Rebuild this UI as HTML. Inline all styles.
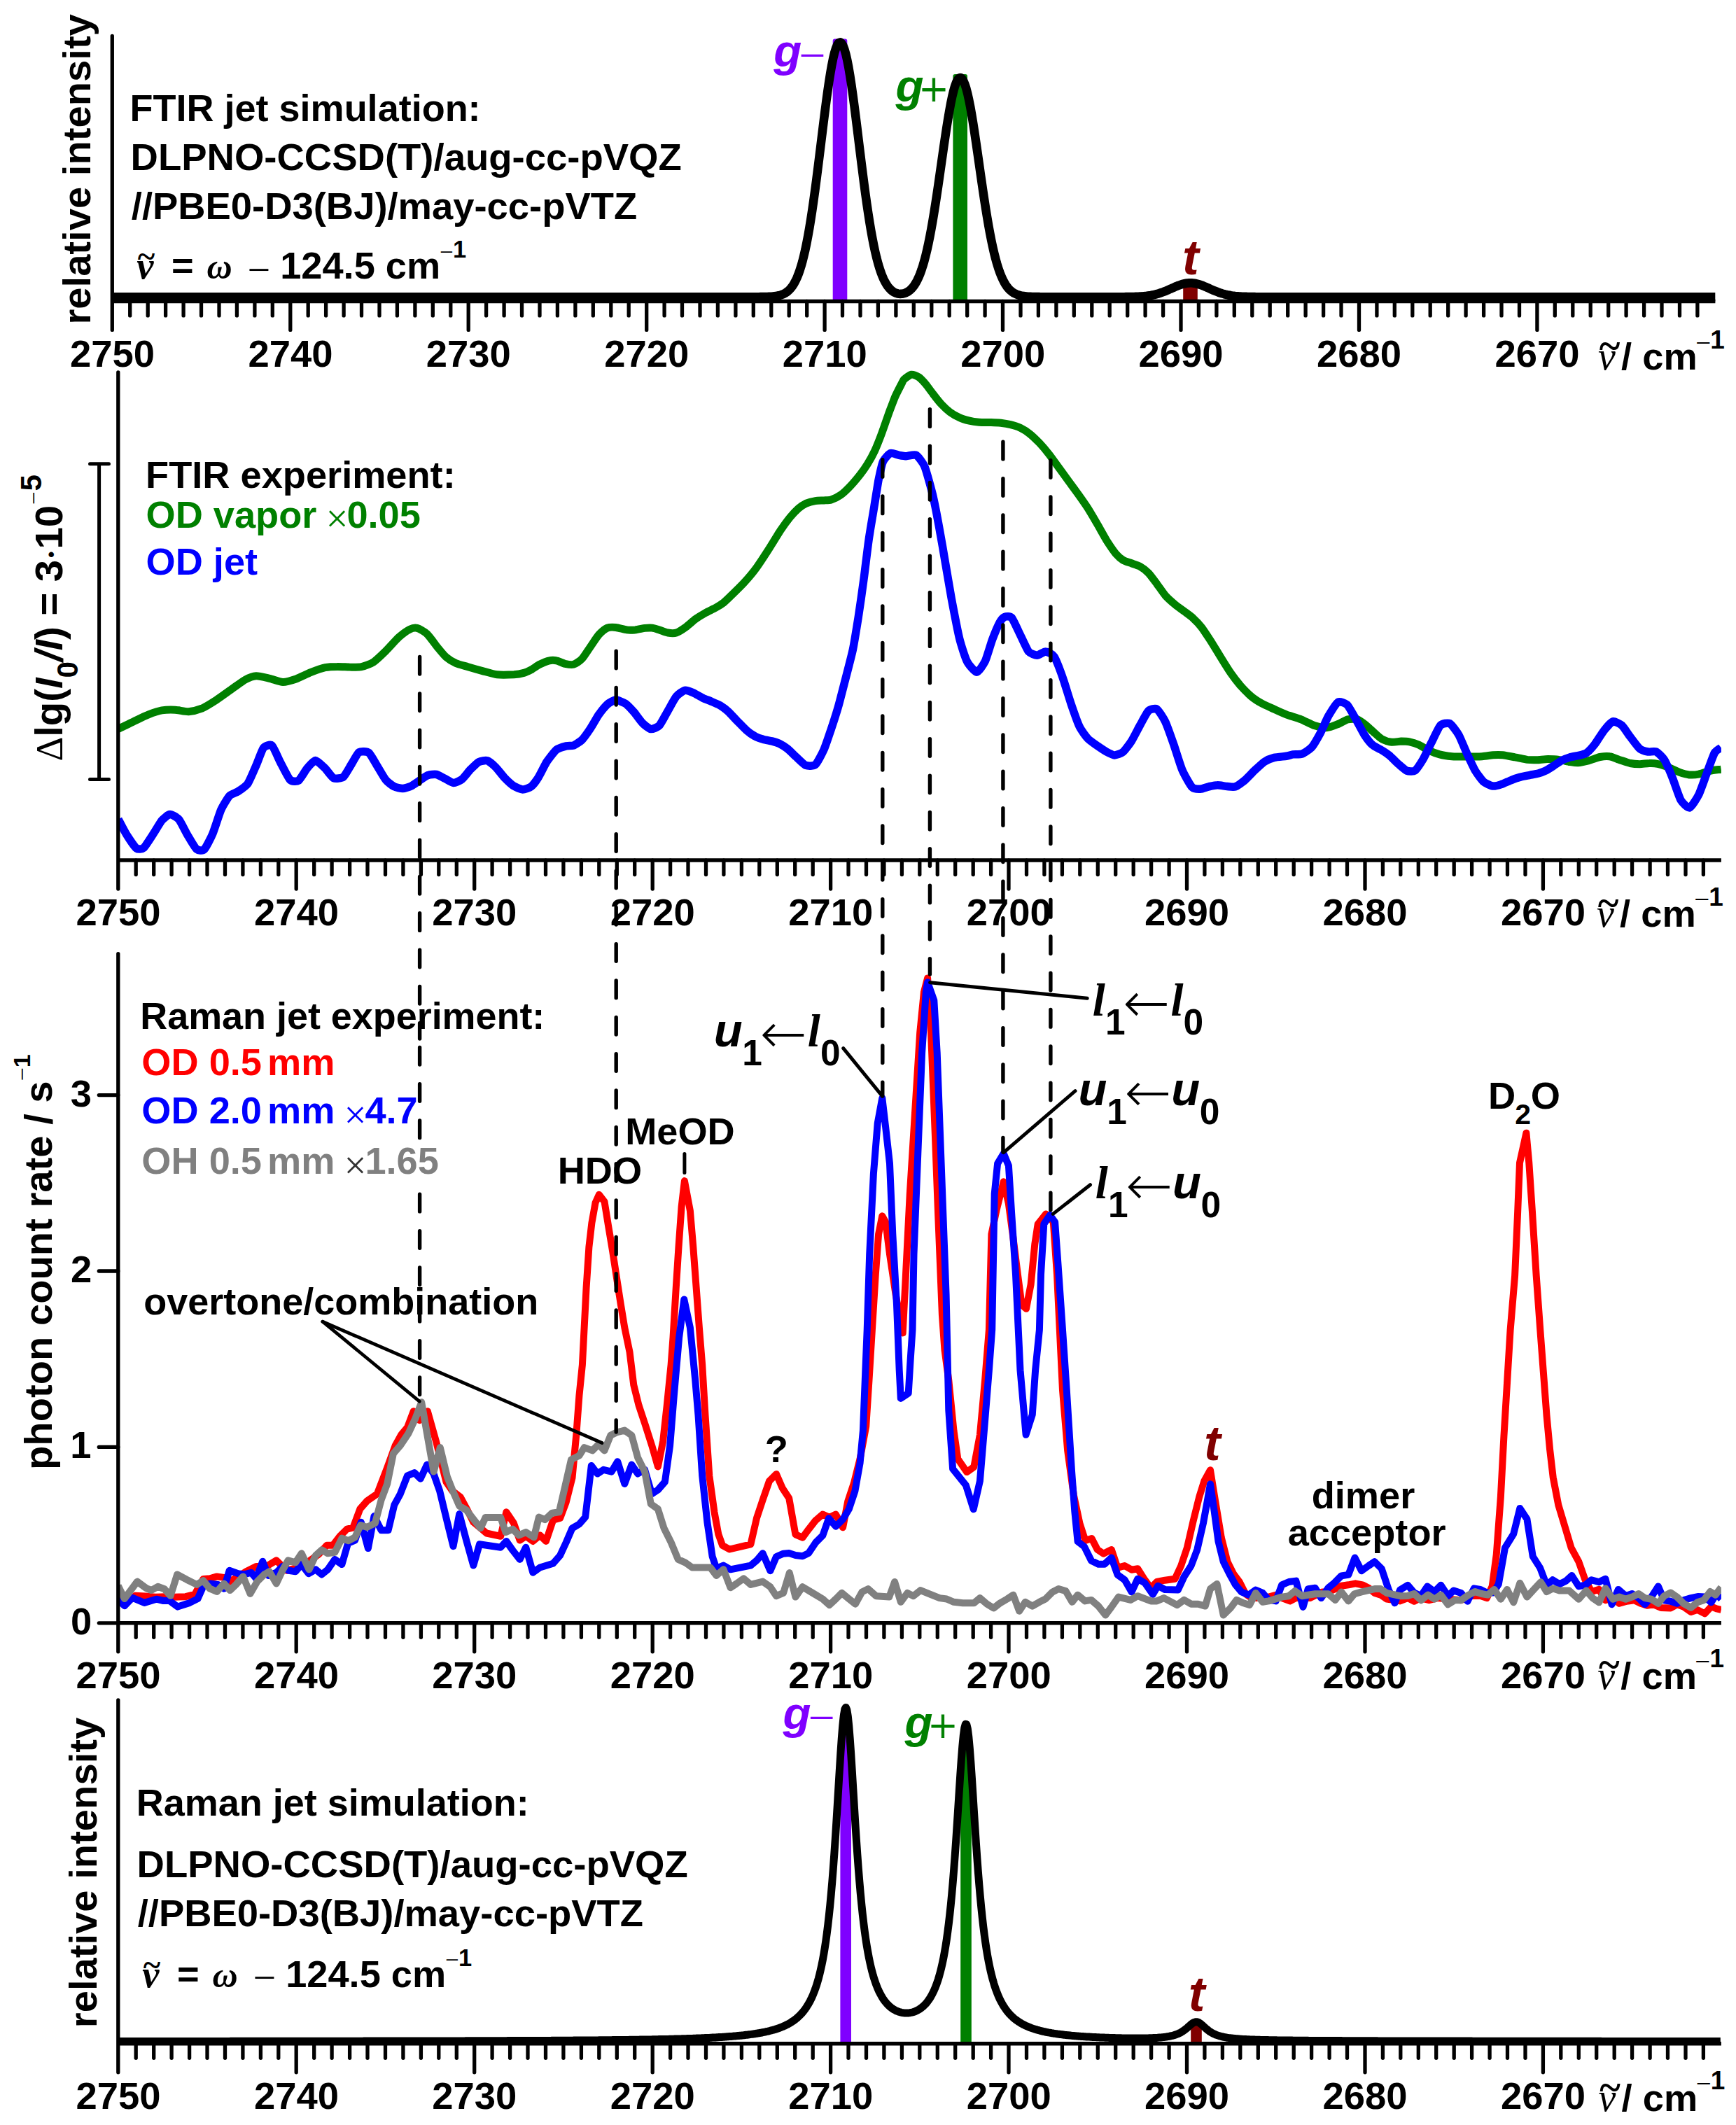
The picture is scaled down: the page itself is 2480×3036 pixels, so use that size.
<!DOCTYPE html>
<html><head><meta charset="utf-8"><title>Spectra</title><style>html,body{margin:0;padding:0;background:#fff}svg{display:block}</style></head><body>
<svg width="2480" height="3036" viewBox="0 0 2480 3036">
<rect width="2480" height="3036" fill="#fff"/>
<rect x="1189.7" y="55.4" width="20.6" height="375" rx="3" fill="#7f00ff"/>
<rect x="1361.4" y="106" width="20.6" height="324.4" rx="3" fill="#008000"/>
<rect x="1690.2" y="399.3" width="20.6" height="31.1" rx="3" fill="#800000"/>
<line x1="160.3" y1="51.5" x2="160.3" y2="471.4" stroke="#000" stroke-width="5.3" stroke-linecap="round" />
<line x1="160.3" y1="430.4" x2="2450.4" y2="430.4" stroke="#000" stroke-width="5.5" stroke-linecap="butt" />
<line x1="185.7" y1="430.4" x2="185.7" y2="450.9" stroke="#000" stroke-width="5.3" stroke-linecap="round" />
<line x1="211.2" y1="430.4" x2="211.2" y2="450.9" stroke="#000" stroke-width="5.3" stroke-linecap="round" />
<line x1="236.6" y1="430.4" x2="236.6" y2="450.9" stroke="#000" stroke-width="5.3" stroke-linecap="round" />
<line x1="262.1" y1="430.4" x2="262.1" y2="450.9" stroke="#000" stroke-width="5.3" stroke-linecap="round" />
<line x1="287.5" y1="430.4" x2="287.5" y2="450.9" stroke="#000" stroke-width="5.3" stroke-linecap="round" />
<line x1="313" y1="430.4" x2="313" y2="450.9" stroke="#000" stroke-width="5.3" stroke-linecap="round" />
<line x1="338.4" y1="430.4" x2="338.4" y2="450.9" stroke="#000" stroke-width="5.3" stroke-linecap="round" />
<line x1="363.9" y1="430.4" x2="363.9" y2="450.9" stroke="#000" stroke-width="5.3" stroke-linecap="round" />
<line x1="389.3" y1="430.4" x2="389.3" y2="450.9" stroke="#000" stroke-width="5.3" stroke-linecap="round" />
<line x1="414.8" y1="430.4" x2="414.8" y2="471.4" stroke="#000" stroke-width="5.3" stroke-linecap="round" />
<line x1="440.2" y1="430.4" x2="440.2" y2="450.9" stroke="#000" stroke-width="5.3" stroke-linecap="round" />
<line x1="465.6" y1="430.4" x2="465.6" y2="450.9" stroke="#000" stroke-width="5.3" stroke-linecap="round" />
<line x1="491.1" y1="430.4" x2="491.1" y2="450.9" stroke="#000" stroke-width="5.3" stroke-linecap="round" />
<line x1="516.5" y1="430.4" x2="516.5" y2="450.9" stroke="#000" stroke-width="5.3" stroke-linecap="round" />
<line x1="542" y1="430.4" x2="542" y2="450.9" stroke="#000" stroke-width="5.3" stroke-linecap="round" />
<line x1="567.4" y1="430.4" x2="567.4" y2="450.9" stroke="#000" stroke-width="5.3" stroke-linecap="round" />
<line x1="592.9" y1="430.4" x2="592.9" y2="450.9" stroke="#000" stroke-width="5.3" stroke-linecap="round" />
<line x1="618.3" y1="430.4" x2="618.3" y2="450.9" stroke="#000" stroke-width="5.3" stroke-linecap="round" />
<line x1="643.8" y1="430.4" x2="643.8" y2="450.9" stroke="#000" stroke-width="5.3" stroke-linecap="round" />
<line x1="669.2" y1="430.4" x2="669.2" y2="471.4" stroke="#000" stroke-width="5.3" stroke-linecap="round" />
<line x1="694.6" y1="430.4" x2="694.6" y2="450.9" stroke="#000" stroke-width="5.3" stroke-linecap="round" />
<line x1="720.1" y1="430.4" x2="720.1" y2="450.9" stroke="#000" stroke-width="5.3" stroke-linecap="round" />
<line x1="745.5" y1="430.4" x2="745.5" y2="450.9" stroke="#000" stroke-width="5.3" stroke-linecap="round" />
<line x1="771" y1="430.4" x2="771" y2="450.9" stroke="#000" stroke-width="5.3" stroke-linecap="round" />
<line x1="796.4" y1="430.4" x2="796.4" y2="450.9" stroke="#000" stroke-width="5.3" stroke-linecap="round" />
<line x1="821.9" y1="430.4" x2="821.9" y2="450.9" stroke="#000" stroke-width="5.3" stroke-linecap="round" />
<line x1="847.3" y1="430.4" x2="847.3" y2="450.9" stroke="#000" stroke-width="5.3" stroke-linecap="round" />
<line x1="872.8" y1="430.4" x2="872.8" y2="450.9" stroke="#000" stroke-width="5.3" stroke-linecap="round" />
<line x1="898.2" y1="430.4" x2="898.2" y2="450.9" stroke="#000" stroke-width="5.3" stroke-linecap="round" />
<line x1="923.7" y1="430.4" x2="923.7" y2="471.4" stroke="#000" stroke-width="5.3" stroke-linecap="round" />
<line x1="949.1" y1="430.4" x2="949.1" y2="450.9" stroke="#000" stroke-width="5.3" stroke-linecap="round" />
<line x1="974.5" y1="430.4" x2="974.5" y2="450.9" stroke="#000" stroke-width="5.3" stroke-linecap="round" />
<line x1="1000" y1="430.4" x2="1000" y2="450.9" stroke="#000" stroke-width="5.3" stroke-linecap="round" />
<line x1="1025.4" y1="430.4" x2="1025.4" y2="450.9" stroke="#000" stroke-width="5.3" stroke-linecap="round" />
<line x1="1050.9" y1="430.4" x2="1050.9" y2="450.9" stroke="#000" stroke-width="5.3" stroke-linecap="round" />
<line x1="1076.3" y1="430.4" x2="1076.3" y2="450.9" stroke="#000" stroke-width="5.3" stroke-linecap="round" />
<line x1="1101.8" y1="430.4" x2="1101.8" y2="450.9" stroke="#000" stroke-width="5.3" stroke-linecap="round" />
<line x1="1127.2" y1="430.4" x2="1127.2" y2="450.9" stroke="#000" stroke-width="5.3" stroke-linecap="round" />
<line x1="1152.7" y1="430.4" x2="1152.7" y2="450.9" stroke="#000" stroke-width="5.3" stroke-linecap="round" />
<line x1="1178.1" y1="430.4" x2="1178.1" y2="471.4" stroke="#000" stroke-width="5.3" stroke-linecap="round" />
<line x1="1203.5" y1="430.4" x2="1203.5" y2="450.9" stroke="#000" stroke-width="5.3" stroke-linecap="round" />
<line x1="1229" y1="430.4" x2="1229" y2="450.9" stroke="#000" stroke-width="5.3" stroke-linecap="round" />
<line x1="1254.4" y1="430.4" x2="1254.4" y2="450.9" stroke="#000" stroke-width="5.3" stroke-linecap="round" />
<line x1="1279.9" y1="430.4" x2="1279.9" y2="450.9" stroke="#000" stroke-width="5.3" stroke-linecap="round" />
<line x1="1305.3" y1="430.4" x2="1305.3" y2="450.9" stroke="#000" stroke-width="5.3" stroke-linecap="round" />
<line x1="1330.8" y1="430.4" x2="1330.8" y2="450.9" stroke="#000" stroke-width="5.3" stroke-linecap="round" />
<line x1="1356.2" y1="430.4" x2="1356.2" y2="450.9" stroke="#000" stroke-width="5.3" stroke-linecap="round" />
<line x1="1381.7" y1="430.4" x2="1381.7" y2="450.9" stroke="#000" stroke-width="5.3" stroke-linecap="round" />
<line x1="1407.1" y1="430.4" x2="1407.1" y2="450.9" stroke="#000" stroke-width="5.3" stroke-linecap="round" />
<line x1="1432.5" y1="430.4" x2="1432.5" y2="471.4" stroke="#000" stroke-width="5.3" stroke-linecap="round" />
<line x1="1458" y1="430.4" x2="1458" y2="450.9" stroke="#000" stroke-width="5.3" stroke-linecap="round" />
<line x1="1483.4" y1="430.4" x2="1483.4" y2="450.9" stroke="#000" stroke-width="5.3" stroke-linecap="round" />
<line x1="1508.9" y1="430.4" x2="1508.9" y2="450.9" stroke="#000" stroke-width="5.3" stroke-linecap="round" />
<line x1="1534.3" y1="430.4" x2="1534.3" y2="450.9" stroke="#000" stroke-width="5.3" stroke-linecap="round" />
<line x1="1559.8" y1="430.4" x2="1559.8" y2="450.9" stroke="#000" stroke-width="5.3" stroke-linecap="round" />
<line x1="1585.2" y1="430.4" x2="1585.2" y2="450.9" stroke="#000" stroke-width="5.3" stroke-linecap="round" />
<line x1="1610.7" y1="430.4" x2="1610.7" y2="450.9" stroke="#000" stroke-width="5.3" stroke-linecap="round" />
<line x1="1636.1" y1="430.4" x2="1636.1" y2="450.9" stroke="#000" stroke-width="5.3" stroke-linecap="round" />
<line x1="1661.6" y1="430.4" x2="1661.6" y2="450.9" stroke="#000" stroke-width="5.3" stroke-linecap="round" />
<line x1="1687" y1="430.4" x2="1687" y2="471.4" stroke="#000" stroke-width="5.3" stroke-linecap="round" />
<line x1="1712.4" y1="430.4" x2="1712.4" y2="450.9" stroke="#000" stroke-width="5.3" stroke-linecap="round" />
<line x1="1737.9" y1="430.4" x2="1737.9" y2="450.9" stroke="#000" stroke-width="5.3" stroke-linecap="round" />
<line x1="1763.3" y1="430.4" x2="1763.3" y2="450.9" stroke="#000" stroke-width="5.3" stroke-linecap="round" />
<line x1="1788.8" y1="430.4" x2="1788.8" y2="450.9" stroke="#000" stroke-width="5.3" stroke-linecap="round" />
<line x1="1814.2" y1="430.4" x2="1814.2" y2="450.9" stroke="#000" stroke-width="5.3" stroke-linecap="round" />
<line x1="1839.7" y1="430.4" x2="1839.7" y2="450.9" stroke="#000" stroke-width="5.3" stroke-linecap="round" />
<line x1="1865.1" y1="430.4" x2="1865.1" y2="450.9" stroke="#000" stroke-width="5.3" stroke-linecap="round" />
<line x1="1890.6" y1="430.4" x2="1890.6" y2="450.9" stroke="#000" stroke-width="5.3" stroke-linecap="round" />
<line x1="1916" y1="430.4" x2="1916" y2="450.9" stroke="#000" stroke-width="5.3" stroke-linecap="round" />
<line x1="1941.5" y1="430.4" x2="1941.5" y2="471.4" stroke="#000" stroke-width="5.3" stroke-linecap="round" />
<line x1="1966.9" y1="430.4" x2="1966.9" y2="450.9" stroke="#000" stroke-width="5.3" stroke-linecap="round" />
<line x1="1992.3" y1="430.4" x2="1992.3" y2="450.9" stroke="#000" stroke-width="5.3" stroke-linecap="round" />
<line x1="2017.8" y1="430.4" x2="2017.8" y2="450.9" stroke="#000" stroke-width="5.3" stroke-linecap="round" />
<line x1="2043.2" y1="430.4" x2="2043.2" y2="450.9" stroke="#000" stroke-width="5.3" stroke-linecap="round" />
<line x1="2068.7" y1="430.4" x2="2068.7" y2="450.9" stroke="#000" stroke-width="5.3" stroke-linecap="round" />
<line x1="2094.1" y1="430.4" x2="2094.1" y2="450.9" stroke="#000" stroke-width="5.3" stroke-linecap="round" />
<line x1="2119.6" y1="430.4" x2="2119.6" y2="450.9" stroke="#000" stroke-width="5.3" stroke-linecap="round" />
<line x1="2145" y1="430.4" x2="2145" y2="450.9" stroke="#000" stroke-width="5.3" stroke-linecap="round" />
<line x1="2170.5" y1="430.4" x2="2170.5" y2="450.9" stroke="#000" stroke-width="5.3" stroke-linecap="round" />
<line x1="2195.9" y1="430.4" x2="2195.9" y2="471.4" stroke="#000" stroke-width="5.3" stroke-linecap="round" />
<line x1="2221.3" y1="430.4" x2="2221.3" y2="450.9" stroke="#000" stroke-width="5.3" stroke-linecap="round" />
<line x1="2246.8" y1="430.4" x2="2246.8" y2="450.9" stroke="#000" stroke-width="5.3" stroke-linecap="round" />
<line x1="2272.2" y1="430.4" x2="2272.2" y2="450.9" stroke="#000" stroke-width="5.3" stroke-linecap="round" />
<line x1="2297.7" y1="430.4" x2="2297.7" y2="450.9" stroke="#000" stroke-width="5.3" stroke-linecap="round" />
<line x1="2323.1" y1="430.4" x2="2323.1" y2="450.9" stroke="#000" stroke-width="5.3" stroke-linecap="round" />
<line x1="2348.6" y1="430.4" x2="2348.6" y2="450.9" stroke="#000" stroke-width="5.3" stroke-linecap="round" />
<line x1="2374" y1="430.4" x2="2374" y2="450.9" stroke="#000" stroke-width="5.3" stroke-linecap="round" />
<line x1="2399.5" y1="430.4" x2="2399.5" y2="450.9" stroke="#000" stroke-width="5.3" stroke-linecap="round" />
<line x1="2424.9" y1="430.4" x2="2424.9" y2="450.9" stroke="#000" stroke-width="5.3" stroke-linecap="round" />
<text x="99.9" y="523.5" font-family='"Liberation Sans", Arial, sans-serif' font-size="54.4" font-weight="bold" font-style="normal" fill="#000" >2750</text>
<text x="354.4" y="523.5" font-family='"Liberation Sans", Arial, sans-serif' font-size="54.4" font-weight="bold" font-style="normal" fill="#000" >2740</text>
<text x="608.8" y="523.5" font-family='"Liberation Sans", Arial, sans-serif' font-size="54.4" font-weight="bold" font-style="normal" fill="#000" >2730</text>
<text x="863.3" y="523.5" font-family='"Liberation Sans", Arial, sans-serif' font-size="54.4" font-weight="bold" font-style="normal" fill="#000" >2720</text>
<text x="1117.7" y="523.5" font-family='"Liberation Sans", Arial, sans-serif' font-size="54.4" font-weight="bold" font-style="normal" fill="#000" >2710</text>
<text x="1372.2" y="523.5" font-family='"Liberation Sans", Arial, sans-serif' font-size="54.4" font-weight="bold" font-style="normal" fill="#000" >2700</text>
<text x="1626.6" y="523.5" font-family='"Liberation Sans", Arial, sans-serif' font-size="54.4" font-weight="bold" font-style="normal" fill="#000" >2690</text>
<text x="1881.1" y="523.5" font-family='"Liberation Sans", Arial, sans-serif' font-size="54.4" font-weight="bold" font-style="normal" fill="#000" >2680</text>
<text x="2135.5" y="523.5" font-family='"Liberation Sans", Arial, sans-serif' font-size="54.4" font-weight="bold" font-style="normal" fill="#000" >2670</text>
<text x="2283" y="528.4" font-family='"Liberation Serif", "Times New Roman", serif' font-size="56" font-weight="normal" font-style="italic" fill="#000" >ν</text>
<text x="2284.8" y="513.2" font-family='"Liberation Serif", "Times New Roman", serif' font-size="57" font-weight="bold" font-style="normal" fill="#000" >~</text>
<text x="2316.1" y="528.4" font-family='"Liberation Sans", Arial, sans-serif' font-size="54.3" font-weight="bold" font-style="normal" fill="#000" >/ cm</text>
<text x="2422.2" y="502.7" font-family='"Liberation Serif", "Times New Roman", serif' font-size="39" font-weight="normal" font-style="normal" fill="#000" >−</text>
<text x="2443.3" y="498" font-family='"Liberation Sans", Arial, sans-serif' font-size="37" font-weight="bold" font-style="normal" fill="#000" >1</text>
<polyline points="160.3,424.2 162.3,424.2 164.3,424.2 166.3,424.2 168.3,424.2 170.3,424.2 172.3,424.2 174.3,424.2 176.3,424.2 178.3,424.2 180.3,424.2 182.3,424.2 184.3,424.2 186.3,424.2 188.3,424.2 190.3,424.2 192.3,424.2 194.3,424.2 196.3,424.2 198.3,424.2 200.3,424.2 202.3,424.2 204.3,424.2 206.3,424.2 208.3,424.2 210.3,424.2 212.3,424.2 214.3,424.2 216.3,424.2 218.3,424.2 220.3,424.2 222.3,424.2 224.3,424.2 226.3,424.2 228.3,424.2 230.3,424.2 232.3,424.2 234.3,424.2 236.3,424.2 238.3,424.2 240.3,424.2 242.3,424.2 244.3,424.2 246.3,424.2 248.3,424.2 250.3,424.2 252.3,424.2 254.3,424.2 256.3,424.2 258.3,424.2 260.3,424.2 262.3,424.2 264.3,424.2 266.3,424.2 268.3,424.2 270.3,424.2 272.3,424.2 274.3,424.2 276.3,424.2 278.3,424.2 280.3,424.2 282.3,424.2 284.3,424.2 286.3,424.2 288.3,424.2 290.3,424.2 292.3,424.2 294.3,424.2 296.3,424.2 298.3,424.2 300.3,424.2 302.3,424.2 304.3,424.2 306.3,424.2 308.3,424.2 310.3,424.2 312.3,424.2 314.3,424.2 316.3,424.2 318.3,424.2 320.3,424.2 322.3,424.2 324.3,424.2 326.3,424.2 328.3,424.2 330.3,424.2 332.3,424.2 334.3,424.2 336.3,424.2 338.3,424.2 340.3,424.2 342.3,424.2 344.3,424.2 346.3,424.2 348.3,424.2 350.3,424.2 352.3,424.2 354.3,424.2 356.3,424.2 358.3,424.2 360.3,424.2 362.3,424.2 364.3,424.2 366.3,424.2 368.3,424.2 370.3,424.2 372.3,424.2 374.3,424.2 376.3,424.2 378.3,424.2 380.3,424.2 382.3,424.2 384.3,424.2 386.3,424.2 388.3,424.2 390.3,424.2 392.3,424.2 394.3,424.2 396.3,424.2 398.3,424.2 400.3,424.2 402.3,424.2 404.3,424.2 406.3,424.2 408.3,424.2 410.3,424.2 412.3,424.2 414.3,424.2 416.3,424.2 418.3,424.2 420.3,424.2 422.3,424.2 424.3,424.2 426.3,424.2 428.3,424.2 430.3,424.2 432.3,424.2 434.3,424.2 436.3,424.2 438.3,424.2 440.3,424.2 442.3,424.2 444.3,424.2 446.3,424.2 448.3,424.2 450.3,424.2 452.3,424.2 454.3,424.2 456.3,424.2 458.3,424.2 460.3,424.2 462.3,424.2 464.3,424.2 466.3,424.2 468.3,424.2 470.3,424.2 472.3,424.2 474.3,424.2 476.3,424.2 478.3,424.2 480.3,424.2 482.3,424.2 484.3,424.2 486.3,424.2 488.3,424.2 490.3,424.2 492.3,424.2 494.3,424.2 496.3,424.2 498.3,424.2 500.3,424.2 502.3,424.2 504.3,424.2 506.3,424.2 508.3,424.2 510.3,424.2 512.3,424.2 514.3,424.2 516.3,424.2 518.3,424.2 520.3,424.2 522.3,424.2 524.3,424.2 526.3,424.2 528.3,424.2 530.3,424.2 532.3,424.2 534.3,424.2 536.3,424.2 538.3,424.2 540.3,424.2 542.3,424.2 544.3,424.2 546.3,424.2 548.3,424.2 550.3,424.2 552.3,424.2 554.3,424.2 556.3,424.2 558.3,424.2 560.3,424.2 562.3,424.2 564.3,424.2 566.3,424.2 568.3,424.2 570.3,424.2 572.3,424.2 574.3,424.2 576.3,424.2 578.3,424.2 580.3,424.2 582.3,424.2 584.3,424.2 586.3,424.2 588.3,424.2 590.3,424.2 592.3,424.2 594.3,424.2 596.3,424.2 598.3,424.2 600.3,424.2 602.3,424.2 604.3,424.2 606.3,424.2 608.3,424.2 610.3,424.2 612.3,424.2 614.3,424.2 616.3,424.2 618.3,424.2 620.3,424.2 622.3,424.2 624.3,424.2 626.3,424.2 628.3,424.2 630.3,424.2 632.3,424.2 634.3,424.2 636.3,424.2 638.3,424.2 640.3,424.2 642.3,424.2 644.3,424.2 646.3,424.2 648.3,424.2 650.3,424.2 652.3,424.2 654.3,424.2 656.3,424.2 658.3,424.2 660.3,424.2 662.3,424.2 664.3,424.2 666.3,424.2 668.3,424.2 670.3,424.2 672.3,424.2 674.3,424.2 676.3,424.2 678.3,424.2 680.3,424.2 682.3,424.2 684.3,424.2 686.3,424.2 688.3,424.2 690.3,424.2 692.3,424.2 694.3,424.2 696.3,424.2 698.3,424.2 700.3,424.2 702.3,424.2 704.3,424.2 706.3,424.2 708.3,424.2 710.3,424.2 712.3,424.2 714.3,424.2 716.3,424.2 718.3,424.2 720.3,424.2 722.3,424.2 724.3,424.2 726.3,424.2 728.3,424.2 730.3,424.2 732.3,424.2 734.3,424.2 736.3,424.2 738.3,424.2 740.3,424.2 742.3,424.2 744.3,424.2 746.3,424.2 748.3,424.2 750.3,424.2 752.3,424.2 754.3,424.2 756.3,424.2 758.3,424.2 760.3,424.2 762.3,424.2 764.3,424.2 766.3,424.2 768.3,424.2 770.3,424.2 772.3,424.2 774.3,424.2 776.3,424.2 778.3,424.2 780.3,424.2 782.3,424.2 784.3,424.2 786.3,424.2 788.3,424.2 790.3,424.2 792.3,424.2 794.3,424.2 796.3,424.2 798.3,424.2 800.3,424.2 802.3,424.2 804.3,424.2 806.3,424.2 808.3,424.2 810.3,424.2 812.3,424.2 814.3,424.2 816.3,424.2 818.3,424.2 820.3,424.2 822.3,424.2 824.3,424.2 826.3,424.2 828.3,424.2 830.3,424.2 832.3,424.2 834.3,424.2 836.3,424.2 838.3,424.2 840.3,424.2 842.3,424.2 844.3,424.2 846.3,424.2 848.3,424.2 850.3,424.2 852.3,424.2 854.3,424.2 856.3,424.2 858.3,424.2 860.3,424.2 862.3,424.2 864.3,424.2 866.3,424.2 868.3,424.2 870.3,424.2 872.3,424.2 874.3,424.2 876.3,424.2 878.3,424.2 880.3,424.2 882.3,424.2 884.3,424.2 886.3,424.2 888.3,424.2 890.3,424.2 892.3,424.2 894.3,424.2 896.3,424.2 898.3,424.2 900.3,424.2 902.3,424.2 904.3,424.2 906.3,424.2 908.3,424.2 910.3,424.2 912.3,424.2 914.3,424.2 916.3,424.2 918.3,424.2 920.3,424.2 922.3,424.2 924.3,424.2 926.3,424.2 928.3,424.2 930.3,424.2 932.3,424.2 934.3,424.2 936.3,424.2 938.3,424.2 940.3,424.2 942.3,424.2 944.3,424.2 946.3,424.2 948.3,424.2 950.3,424.2 952.3,424.2 954.3,424.2 956.3,424.2 958.3,424.2 960.3,424.2 962.3,424.2 964.3,424.2 966.3,424.2 968.3,424.2 970.3,424.2 972.3,424.2 974.3,424.2 976.3,424.2 978.3,424.2 980.3,424.2 982.3,424.2 984.3,424.2 986.3,424.2 988.3,424.2 990.3,424.2 992.3,424.2 994.3,424.2 996.3,424.2 998.3,424.2 1000.3,424.2 1002.3,424.2 1004.3,424.2 1006.3,424.2 1008.3,424.2 1010.3,424.2 1012.3,424.2 1014.3,424.2 1016.3,424.2 1018.3,424.2 1020.3,424.2 1022.3,424.2 1024.3,424.2 1026.3,424.2 1028.3,424.2 1030.3,424.2 1032.3,424.2 1034.3,424.2 1036.3,424.2 1038.3,424.2 1040.3,424.2 1042.3,424.2 1044.3,424.2 1046.3,424.2 1048.3,424.2 1050.3,424.2 1052.3,424.2 1054.3,424.2 1056.3,424.2 1058.3,424.2 1060.3,424.2 1062.3,424.2 1064.3,424.2 1066.3,424.2 1068.3,424.2 1070.3,424.2 1072.3,424.2 1074.3,424.2 1076.3,424.2 1078.3,424.2 1080.3,424.2 1082.3,424.2 1084.3,424.2 1086.3,424.1 1088.3,424.1 1090.3,424.1 1092.3,424.1 1094.3,424 1096.3,424 1098.3,423.9 1100.3,423.8 1102.3,423.7 1104.3,423.5 1106.3,423.3 1108.3,423.1 1110.3,422.7 1112.3,422.3 1114.3,421.8 1116.3,421.2 1118.3,420.4 1120.3,419.5 1122.3,418.4 1124.3,417 1126.3,415.4 1128.3,413.4 1130.3,411.1 1132.3,408.4 1134.3,405.3 1136.3,401.6 1138.3,397.4 1140.3,392.5 1142.3,387 1144.3,380.7 1146.3,373.7 1148.3,365.8 1150.3,357.2 1152.3,347.6 1154.3,337.1 1156.3,325.8 1158.3,313.6 1160.3,300.5 1162.3,286.7 1164.3,272.1 1166.3,257 1168.3,241.3 1170.3,225.3 1172.3,209 1174.3,192.7 1176.3,176.5 1178.3,160.6 1180.3,145.2 1182.3,130.6 1184.3,116.8 1186.3,104.2 1188.3,92.9 1190.3,83 1192.3,74.8 1194.3,68.4 1196.3,63.8 1198.3,61.1 1200.3,60.4 1202.3,61.7 1204.3,65 1206.3,70.2 1208.3,77.2 1210.3,86 1212.3,96.3 1214.3,108.1 1216.3,121.1 1218.3,135.1 1220.3,150 1222.3,165.6 1224.3,181.6 1226.3,197.9 1228.3,214.2 1230.3,230.4 1232.3,246.3 1234.3,261.9 1236.3,276.8 1238.3,291.2 1240.3,304.7 1242.3,317.5 1244.3,329.5 1246.3,340.5 1248.3,350.7 1250.3,360 1252.3,368.4 1254.3,376 1256.3,382.8 1258.3,388.8 1260.3,394.1 1262.3,398.7 1264.3,402.7 1266.3,406.2 1268.3,409.1 1270.3,411.6 1272.3,413.7 1274.3,415.5 1276.3,416.9 1278.3,418 1280.3,418.8 1282.3,419.4 1284.3,419.7 1286.3,419.9 1288.3,419.8 1290.3,419.5 1292.3,419 1294.3,418.2 1296.3,417.2 1298.3,415.9 1300.3,414.3 1302.3,412.4 1304.3,410.1 1306.3,407.4 1308.3,404.2 1310.3,400.5 1312.3,396.3 1314.3,391.5 1316.3,386 1318.3,379.9 1320.3,373.1 1322.3,365.5 1324.3,357.2 1326.3,348.1 1328.3,338.2 1330.3,327.6 1332.3,316.3 1334.3,304.3 1336.3,291.7 1338.3,278.6 1340.3,265.1 1342.3,251.2 1344.3,237.2 1346.3,223.1 1348.3,209.2 1350.3,195.6 1352.3,182.4 1354.3,169.9 1356.3,158.2 1358.3,147.4 1360.3,137.8 1362.3,129.5 1364.3,122.6 1366.3,117.2 1368.3,113.5 1370.3,111.4 1372.3,111 1374.3,112.4 1376.3,115.4 1378.3,120.1 1380.3,126.3 1382.3,134 1384.3,143.1 1386.3,153.3 1388.3,164.6 1390.3,176.8 1392.3,189.8 1394.3,203.2 1396.3,217 1398.3,231 1400.3,245.1 1402.3,259 1404.3,272.7 1406.3,286 1408.3,298.9 1410.3,311.1 1412.3,322.7 1414.3,333.7 1416.3,343.9 1418.3,353.3 1420.3,362 1422.3,369.9 1424.3,377 1426.3,383.5 1428.3,389.2 1430.3,394.3 1432.3,398.8 1434.3,402.8 1436.3,406.2 1438.3,409.2 1440.3,411.7 1442.3,413.9 1444.3,415.7 1446.3,417.3 1448.3,418.6 1450.3,419.6 1452.3,420.5 1454.3,421.3 1456.3,421.9 1458.3,422.4 1460.3,422.7 1462.3,423.1 1464.3,423.3 1466.3,423.5 1468.3,423.7 1470.3,423.8 1472.3,423.9 1474.3,424 1476.3,424 1478.3,424.1 1480.3,424.1 1482.3,424.1 1484.3,424.1 1486.3,424.2 1488.3,424.2 1490.3,424.2 1492.3,424.2 1494.3,424.2 1496.3,424.2 1498.3,424.2 1500.3,424.2 1502.3,424.2 1504.3,424.2 1506.3,424.2 1508.3,424.2 1510.3,424.2 1512.3,424.2 1514.3,424.2 1516.3,424.2 1518.3,424.2 1520.3,424.2 1522.3,424.2 1524.3,424.2 1526.3,424.2 1528.3,424.2 1530.3,424.2 1532.3,424.2 1534.3,424.2 1536.3,424.2 1538.3,424.2 1540.3,424.2 1542.3,424.2 1544.3,424.2 1546.3,424.2 1548.3,424.2 1550.3,424.2 1552.3,424.2 1554.3,424.2 1556.3,424.2 1558.3,424.2 1560.3,424.2 1562.3,424.2 1564.3,424.2 1566.3,424.2 1568.3,424.2 1570.3,424.2 1572.3,424.2 1574.3,424.2 1576.3,424.2 1578.3,424.2 1580.3,424.2 1582.3,424.2 1584.3,424.2 1586.3,424.2 1588.3,424.2 1590.3,424.2 1592.3,424.2 1594.3,424.2 1596.3,424.2 1598.3,424.2 1600.3,424.2 1602.3,424.2 1604.3,424.2 1606.3,424.2 1608.3,424.1 1610.3,424.1 1612.3,424.1 1614.3,424.1 1616.3,424 1618.3,424 1620.3,424 1622.3,423.9 1624.3,423.8 1626.3,423.7 1628.3,423.6 1630.3,423.5 1632.3,423.4 1634.3,423.2 1636.3,423 1638.3,422.8 1640.3,422.5 1642.3,422.2 1644.3,421.9 1646.3,421.5 1648.3,421.1 1650.3,420.7 1652.3,420.1 1654.3,419.6 1656.3,419 1658.3,418.3 1660.3,417.6 1662.3,416.9 1664.3,416.1 1666.3,415.3 1668.3,414.4 1670.3,413.5 1672.3,412.7 1674.3,411.8 1676.3,410.9 1678.3,410 1680.3,409.1 1682.3,408.3 1684.3,407.6 1686.3,406.9 1688.3,406.2 1690.3,405.7 1692.3,405.2 1694.3,404.8 1696.3,404.5 1698.3,404.4 1700.3,404.3 1702.3,404.3 1704.3,404.5 1706.3,404.8 1708.3,405.1 1710.3,405.6 1712.3,406.1 1714.3,406.7 1716.3,407.4 1718.3,408.2 1720.3,409 1722.3,409.8 1724.3,410.7 1726.3,411.6 1728.3,412.5 1730.3,413.4 1732.3,414.3 1734.3,415.1 1736.3,415.9 1738.3,416.7 1740.3,417.5 1742.3,418.2 1744.3,418.9 1746.3,419.5 1748.3,420 1750.3,420.6 1752.3,421 1754.3,421.5 1756.3,421.8 1758.3,422.2 1760.3,422.5 1762.3,422.7 1764.3,423 1766.3,423.2 1768.3,423.3 1770.3,423.5 1772.3,423.6 1774.3,423.7 1776.3,423.8 1778.3,423.9 1780.3,423.9 1782.3,424 1784.3,424 1786.3,424.1 1788.3,424.1 1790.3,424.1 1792.3,424.1 1794.3,424.2 1796.3,424.2 1798.3,424.2 1800.3,424.2 1802.3,424.2 1804.3,424.2 1806.3,424.2 1808.3,424.2 1810.3,424.2 1812.3,424.2 1814.3,424.2 1816.3,424.2 1818.3,424.2 1820.3,424.2 1822.3,424.2 1824.3,424.2 1826.3,424.2 1828.3,424.2 1830.3,424.2 1832.3,424.2 1834.3,424.2 1836.3,424.2 1838.3,424.2 1840.3,424.2 1842.3,424.2 1844.3,424.2 1846.3,424.2 1848.3,424.2 1850.3,424.2 1852.3,424.2 1854.3,424.2 1856.3,424.2 1858.3,424.2 1860.3,424.2 1862.3,424.2 1864.3,424.2 1866.3,424.2 1868.3,424.2 1870.3,424.2 1872.3,424.2 1874.3,424.2 1876.3,424.2 1878.3,424.2 1880.3,424.2 1882.3,424.2 1884.3,424.2 1886.3,424.2 1888.3,424.2 1890.3,424.2 1892.3,424.2 1894.3,424.2 1896.3,424.2 1898.3,424.2 1900.3,424.2 1902.3,424.2 1904.3,424.2 1906.3,424.2 1908.3,424.2 1910.3,424.2 1912.3,424.2 1914.3,424.2 1916.3,424.2 1918.3,424.2 1920.3,424.2 1922.3,424.2 1924.3,424.2 1926.3,424.2 1928.3,424.2 1930.3,424.2 1932.3,424.2 1934.3,424.2 1936.3,424.2 1938.3,424.2 1940.3,424.2 1942.3,424.2 1944.3,424.2 1946.3,424.2 1948.3,424.2 1950.3,424.2 1952.3,424.2 1954.3,424.2 1956.3,424.2 1958.3,424.2 1960.3,424.2 1962.3,424.2 1964.3,424.2 1966.3,424.2 1968.3,424.2 1970.3,424.2 1972.3,424.2 1974.3,424.2 1976.3,424.2 1978.3,424.2 1980.3,424.2 1982.3,424.2 1984.3,424.2 1986.3,424.2 1988.3,424.2 1990.3,424.2 1992.3,424.2 1994.3,424.2 1996.3,424.2 1998.3,424.2 2000.3,424.2 2002.3,424.2 2004.3,424.2 2006.3,424.2 2008.3,424.2 2010.3,424.2 2012.3,424.2 2014.3,424.2 2016.3,424.2 2018.3,424.2 2020.3,424.2 2022.3,424.2 2024.3,424.2 2026.3,424.2 2028.3,424.2 2030.3,424.2 2032.3,424.2 2034.3,424.2 2036.3,424.2 2038.3,424.2 2040.3,424.2 2042.3,424.2 2044.3,424.2 2046.3,424.2 2048.3,424.2 2050.3,424.2 2052.3,424.2 2054.3,424.2 2056.3,424.2 2058.3,424.2 2060.3,424.2 2062.3,424.2 2064.3,424.2 2066.3,424.2 2068.3,424.2 2070.3,424.2 2072.3,424.2 2074.3,424.2 2076.3,424.2 2078.3,424.2 2080.3,424.2 2082.3,424.2 2084.3,424.2 2086.3,424.2 2088.3,424.2 2090.3,424.2 2092.3,424.2 2094.3,424.2 2096.3,424.2 2098.3,424.2 2100.3,424.2 2102.3,424.2 2104.3,424.2 2106.3,424.2 2108.3,424.2 2110.3,424.2 2112.3,424.2 2114.3,424.2 2116.3,424.2 2118.3,424.2 2120.3,424.2 2122.3,424.2 2124.3,424.2 2126.3,424.2 2128.3,424.2 2130.3,424.2 2132.3,424.2 2134.3,424.2 2136.3,424.2 2138.3,424.2 2140.3,424.2 2142.3,424.2 2144.3,424.2 2146.3,424.2 2148.3,424.2 2150.3,424.2 2152.3,424.2 2154.3,424.2 2156.3,424.2 2158.3,424.2 2160.3,424.2 2162.3,424.2 2164.3,424.2 2166.3,424.2 2168.3,424.2 2170.3,424.2 2172.3,424.2 2174.3,424.2 2176.3,424.2 2178.3,424.2 2180.3,424.2 2182.3,424.2 2184.3,424.2 2186.3,424.2 2188.3,424.2 2190.3,424.2 2192.3,424.2 2194.3,424.2 2196.3,424.2 2198.3,424.2 2200.3,424.2 2202.3,424.2 2204.3,424.2 2206.3,424.2 2208.3,424.2 2210.3,424.2 2212.3,424.2 2214.3,424.2 2216.3,424.2 2218.3,424.2 2220.3,424.2 2222.3,424.2 2224.3,424.2 2226.3,424.2 2228.3,424.2 2230.3,424.2 2232.3,424.2 2234.3,424.2 2236.3,424.2 2238.3,424.2 2240.3,424.2 2242.3,424.2 2244.3,424.2 2246.3,424.2 2248.3,424.2 2250.3,424.2 2252.3,424.2 2254.3,424.2 2256.3,424.2 2258.3,424.2 2260.3,424.2 2262.3,424.2 2264.3,424.2 2266.3,424.2 2268.3,424.2 2270.3,424.2 2272.3,424.2 2274.3,424.2 2276.3,424.2 2278.3,424.2 2280.3,424.2 2282.3,424.2 2284.3,424.2 2286.3,424.2 2288.3,424.2 2290.3,424.2 2292.3,424.2 2294.3,424.2 2296.3,424.2 2298.3,424.2 2300.3,424.2 2302.3,424.2 2304.3,424.2 2306.3,424.2 2308.3,424.2 2310.3,424.2 2312.3,424.2 2314.3,424.2 2316.3,424.2 2318.3,424.2 2320.3,424.2 2322.3,424.2 2324.3,424.2 2326.3,424.2 2328.3,424.2 2330.3,424.2 2332.3,424.2 2334.3,424.2 2336.3,424.2 2338.3,424.2 2340.3,424.2 2342.3,424.2 2344.3,424.2 2346.3,424.2 2348.3,424.2 2350.3,424.2 2352.3,424.2 2354.3,424.2 2356.3,424.2 2358.3,424.2 2360.3,424.2 2362.3,424.2 2364.3,424.2 2366.3,424.2 2368.3,424.2 2370.3,424.2 2372.3,424.2 2374.3,424.2 2376.3,424.2 2378.3,424.2 2380.3,424.2 2382.3,424.2 2384.3,424.2 2386.3,424.2 2388.3,424.2 2390.3,424.2 2392.3,424.2 2394.3,424.2 2396.3,424.2 2398.3,424.2 2400.3,424.2 2402.3,424.2 2404.3,424.2 2406.3,424.2 2408.3,424.2 2410.3,424.2 2412.3,424.2 2414.3,424.2 2416.3,424.2 2418.3,424.2 2420.3,424.2 2422.3,424.2 2424.3,424.2 2426.3,424.2 2428.3,424.2 2430.3,424.2 2432.3,424.2 2434.3,424.2 2436.3,424.2 2438.3,424.2 2440.3,424.2 2442.3,424.2 2444.3,424.2 2446.3,424.2 2448.3,424.2 2450.3,424.2" fill="none" stroke="#000" stroke-width="12.6" stroke-linejoin="round" stroke-linecap="butt" />
<text x="1105.2" y="95.4" font-family='"Liberation Sans", Arial, sans-serif' font-size="65.5" font-weight="bold" font-style="italic" fill="#7f00ff" >g</text>
<text x="1141.2" y="102" font-family='"Liberation Serif", "Times New Roman", serif' font-size="68" font-weight="normal" font-style="normal" fill="#7f00ff" >−</text>
<text x="1279.4" y="144.5" font-family='"Liberation Sans", Arial, sans-serif' font-size="65.5" font-weight="bold" font-style="italic" fill="#008000" >g</text>
<text x="1314.4" y="151.7" font-family='"Liberation Serif", "Times New Roman", serif' font-size="69" font-weight="normal" font-style="normal" fill="#008000" stroke="#008000" stroke-width="0.9">+</text>
<text x="1688.9" y="391.8" font-family='"Liberation Sans", Arial, sans-serif' font-size="71" font-weight="bold" font-style="italic" fill="#800000" >t</text>
<text x="185.6" y="172.8" font-family='"Liberation Sans", Arial, sans-serif' font-size="54" font-weight="bold" font-style="normal" fill="#000" >FTIR jet simulation:</text>
<text x="186.6" y="242.8" font-family='"Liberation Sans", Arial, sans-serif' font-size="54.5" font-weight="bold" font-style="normal" fill="#000" >DLPNO-CCSD(T)/aug-cc-pVQZ</text>
<text x="187.8" y="312.9" font-family='"Liberation Sans", Arial, sans-serif' font-size="54.4" font-weight="bold" font-style="normal" fill="#000" >//PBE0-D3(BJ)/may-cc-pVTZ</text>
<text x="195.3" y="398.3" font-family='"Liberation Serif", "Times New Roman", serif' font-size="54.5" font-weight="bold" font-style="italic" fill="#000" >ν</text>
<text x="196.7" y="382" font-family='"Liberation Serif", "Times New Roman", serif' font-size="47" font-weight="bold" font-style="normal" fill="#000" >~</text>
<text x="245.1" y="398.3" font-family='"Liberation Sans", Arial, sans-serif' font-size="54.2" font-weight="bold" font-style="normal" fill="#000" >=</text>
<text x="295.6" y="398.3" font-family='"Liberation Serif", "Times New Roman", serif' font-size="50" font-weight="bold" font-style="italic" fill="#000" >ω</text>
<text x="353.4" y="404.5" font-family='"Liberation Serif", "Times New Roman", serif' font-size="58" font-weight="normal" font-style="normal" fill="#000" >−</text>
<text x="400.2" y="398.3" font-family='"Liberation Sans", Arial, sans-serif' font-size="54.2" font-weight="bold" font-style="normal" fill="#000" >124.5 cm</text>
<text x="628.1" y="371.6" font-family='"Liberation Serif", "Times New Roman", serif' font-size="35" font-weight="normal" font-style="normal" fill="#000" >−</text>
<text x="647.1" y="368.3" font-family='"Liberation Sans", Arial, sans-serif' font-size="34.5" font-weight="bold" font-style="normal" fill="#000" >1</text>
<text transform="translate(128.9,463.6) rotate(-90)" font-family='"Liberation Sans", Arial, sans-serif' font-size="56.2" font-weight="bold" fill="#000">relative intensity</text>
<clipPath id="c2"><rect x="168.8" y="522" width="2290.1" height="707.1"/></clipPath>
<path d="M169,1041.5C171.6,1040.3 186.4,1032.9 191.5,1030.5C196.5,1028.1 207.6,1022.6 212.2,1020.8C216.9,1019 226.8,1015.7 231.2,1014.9C235.7,1014.2 245.8,1014 250.2,1014.2C254.7,1014.4 264.8,1016.9 269.3,1016.7C273.7,1016.4 283.6,1014.1 288.3,1012.2C292.9,1010.2 304.2,1003.2 309,1000.1C313.8,997 324.9,988.9 329.7,985.5C334.6,982.2 346.2,973.3 350.5,971C354.7,968.7 362,966 366,965.8C370.1,965.6 380.6,968.3 385.1,969.3C389.5,970.3 399.6,974.4 404.1,974.5C408.5,974.6 418.4,971.6 423.1,970C427.7,968.4 439,962.6 443.8,960.7C448.7,958.8 460.1,954.7 464.6,953.7C469,952.8 477.8,952.4 481.8,952.4C485.9,952.3 495.1,953 499.1,953.1C503.2,953.1 512.4,953.6 516.4,952.7C520.4,951.9 529.7,948.4 533.7,945.8C537.7,943.2 546.7,934.4 551,930.2C555.2,926.1 565.9,913.8 570,910.2C574,906.6 582.5,900.6 585.5,899.1C588.6,897.6 593.1,896.7 595.9,897.4C598.7,898.1 606.3,902.1 609.7,905.4C613.2,908.6 622.1,921.1 625.3,925.1C628.5,929 634.4,936.3 637.4,938.9C640.4,941.5 647.6,945.9 651.2,947.5C654.8,949.1 664.1,951.4 668.5,952.7C672.9,954 684.4,957.3 689.2,958.6C694.1,959.9 704.7,963.2 710,963.8C715.2,964.4 729.7,964 734.2,963.8C738.7,963.5 745.5,962.2 748.4,961.4C751.3,960.6 756.1,958.3 758.8,956.9C761.4,955.5 767.8,950.8 770.9,949.3C773.9,947.8 781.9,944.4 784.7,943.8C787.5,943.1 792.4,943.2 795.1,943.8C797.7,944.3 804.3,947.6 807.2,948.3C810,948.9 816.4,950.1 819.3,949.3C822.1,948.5 828.5,944.3 831.4,941.3C834.2,938.4 840.6,928.1 843.4,924.1C846.3,920 852.7,909.9 855.5,906.8C858.4,903.6 864.8,898.3 867.6,897.1C870.5,895.9 876.5,896.1 879.7,896.4C883,896.7 892.1,899.5 895.3,899.9C898.5,900.3 904.4,900.1 907.4,899.9C910.4,899.6 918.4,897.8 921.2,897.4C924,897.1 929.2,896.8 931.6,897.1C934,897.4 939.3,899.1 942,899.9C944.6,900.7 951.2,903.5 954.1,904C956.9,904.5 963.1,905 966.2,904C969.2,903 976.8,898 980,895.7C983.2,893.4 990.6,886.6 993.8,884.3C997,882 1004.4,877.5 1007.6,875.7C1010.9,873.8 1018.4,870.4 1021.5,868.7C1024.5,867.1 1030.7,863.4 1033.6,861.1C1036.4,858.9 1042.2,853.1 1045.7,849.7C1049.1,846.4 1058.9,836.9 1062.9,832.5C1067,828 1076.2,817.2 1080.2,811.7C1084.3,806.3 1093.5,792 1097.5,785.8C1101.5,779.5 1111.2,763.6 1114.8,758.1C1118.4,752.7 1125.6,742.8 1128.6,739.1C1131.6,735.4 1138.1,728.6 1140.7,726.3C1143.3,724 1148.3,720.7 1151.1,719.4C1153.9,718.2 1161.9,716.1 1164.9,715.6C1167.9,715.1 1174.4,715.1 1177,714.9C1179.6,714.7 1184.6,714.8 1187.4,713.9C1190.2,713 1198,709.3 1201.2,707C1204.4,704.7 1211.8,697.6 1215,694.2C1218.3,690.8 1226,681.6 1228.9,677.9C1231.7,674.3 1236.8,667 1239.2,663.1C1241.7,659.1 1247.2,649.3 1249.6,644.1C1252,638.8 1257.6,624.6 1260,618.1C1262.4,611.7 1268.1,594.8 1270.3,588.8C1272.6,582.7 1277,570.9 1279,566.3C1281,561.7 1286.2,551.8 1287.6,549C1289.1,546.2 1289.8,543.7 1291.5,542.1C1293.1,540.5 1299.4,535.6 1301.8,535.2C1304.3,534.8 1309.8,537 1312.2,538.6C1314.6,540.3 1320.2,546.2 1322.6,549C1325,551.8 1330.3,559.5 1333,562.8C1335.6,566.2 1342.2,574.7 1345.1,577.7C1347.9,580.7 1354.1,586.5 1357.2,588.8C1360.2,591 1367.8,595.3 1371,596.7C1374.2,598.2 1381.6,600.4 1384.8,601.2C1388,602 1395,603 1398.6,603.3C1402.3,603.6 1412.3,603.5 1415.9,603.6C1419.5,603.7 1426.5,604 1429.7,604.3C1433,604.7 1440.3,605.9 1443.6,606.7C1446.8,607.5 1454.2,609.7 1457.4,611.2C1460.6,612.8 1468,617.3 1471.2,619.9C1474.4,622.4 1481.8,629.6 1485.1,633C1488.3,636.4 1495.7,645.1 1498.9,649.3C1502.1,653.4 1509.5,663.8 1512.7,668.3C1515.9,672.7 1523.3,682.8 1526.5,687.3C1529.8,691.7 1537.1,701.7 1540.4,706.3C1543.6,710.8 1551,721.3 1554.2,726.3C1557.4,731.4 1564.8,744 1568,749.5C1571.2,755 1578.8,768.9 1581.8,773.7C1584.9,778.5 1591.3,787.9 1593.9,791C1596.6,794.1 1601.7,798.7 1604.3,800.3C1606.9,801.9 1613.6,803.8 1616.4,804.8C1619.2,805.8 1625.7,807.7 1628.5,809.3C1631.3,810.9 1637.8,815.7 1640.6,818.6C1643.4,821.5 1649.9,830.4 1652.7,834.2C1655.5,837.9 1661.8,847.3 1664.8,850.8C1667.8,854.2 1675.4,860.9 1678.6,863.6C1681.8,866.3 1689.4,871.6 1692.4,873.9C1695.5,876.2 1701.7,880.6 1704.5,883.3C1707.4,885.9 1713.6,892.4 1716.6,896.4C1719.7,900.4 1727.2,912.1 1730.5,917.1C1733.7,922.2 1741.1,934.4 1744.3,939.6C1747.5,944.8 1754.9,956.7 1758.1,961.4C1761.3,966 1768.5,975.4 1771.9,979.4C1775.4,983.3 1783.9,991.9 1787.5,994.9C1791.1,997.9 1799.2,1003.1 1803.1,1005.3C1806.9,1007.4 1816.3,1011.4 1820.3,1013.2C1824.4,1015.1 1833.1,1019.1 1837.6,1020.8C1842.1,1022.5 1854,1025.9 1858.8,1027.8C1863.5,1029.7 1874,1035.4 1878.3,1036.8C1882.7,1038.2 1892.1,1039.8 1896,1039.6C1899.8,1039.3 1908.2,1035.8 1911.6,1034.5C1915.1,1033.1 1922.1,1028.6 1925.3,1027.8C1928.5,1027 1936.1,1026.9 1939.1,1027.8C1942,1028.7 1948.1,1033.5 1950.8,1035.6C1953.5,1037.8 1959.8,1043.8 1962.6,1046.2C1965.3,1048.6 1971.3,1054.4 1974.3,1056C1977.3,1057.7 1984.8,1060 1988,1060.3C1991.2,1060.7 1998.8,1059.2 2001.7,1059.1C2004.7,1059.1 2010.5,1059.3 2013.5,1059.9C2016.4,1060.5 2024,1062.8 2027.2,1064.2C2030.4,1065.7 2037.5,1070.5 2040.9,1072.1C2044.3,1073.7 2052.7,1076.9 2056.6,1077.9C2060.4,1078.9 2069.8,1080.3 2074.2,1080.7C2078.5,1081.1 2088.7,1081.1 2093.8,1081.1C2098.8,1081.1 2112.7,1081 2117.3,1080.7C2121.8,1080.4 2129.5,1079 2132.9,1078.7C2136.4,1078.5 2143,1078.4 2146.7,1078.7C2150.3,1079.1 2160.2,1081.1 2164.3,1081.9C2168.4,1082.6 2178.2,1084.9 2181.9,1085.4C2185.6,1085.8 2192.2,1085.9 2195.6,1085.8C2199,1085.7 2207.6,1084.6 2211.3,1084.6C2214.9,1084.6 2223.3,1084.9 2226.9,1085.4C2230.6,1085.8 2239.4,1088 2242.6,1088.5C2245.8,1089 2251.2,1089.9 2254.4,1089.7C2257.6,1089.5 2266.4,1087.5 2270,1086.6C2273.7,1085.6 2282.3,1082.2 2285.7,1081.5C2289.1,1080.8 2296.2,1080.2 2299.4,1080.7C2302.6,1081.1 2309.7,1084.2 2313.1,1085.4C2316.5,1086.5 2325.4,1089.7 2328.8,1090.5C2332.2,1091.2 2339.3,1091.7 2342.5,1091.7C2345.7,1091.7 2353.2,1090.5 2356.2,1090.5C2359.2,1090.4 2364.8,1090.6 2368,1091.3C2371.2,1091.9 2380,1094.9 2383.6,1096.4C2387.3,1097.8 2395.9,1102.2 2399.3,1103.4C2402.7,1104.6 2409.8,1106.6 2413,1106.9C2416.2,1107.2 2423.3,1106.8 2426.7,1106.1C2430.1,1105.5 2438.6,1102.3 2442.4,1101.4C2446.1,1100.6 2456.9,1099.4 2458.8,1099.1" fill="none" stroke="#008000" stroke-width="11" stroke-linejoin="round" stroke-linecap="butt" clip-path="url(#c2)"/>
<path d="M169,1170.5C170.2,1172.7 178.5,1188.8 181.1,1192.9C183.7,1197.1 192.5,1210.1 194.9,1212C197.4,1213.8 202.9,1213.3 205.3,1211.3C207.7,1209.2 216.5,1195.1 219.1,1191.2C221.7,1187.3 228.9,1175 231.2,1172.2C233.6,1169.4 240.2,1163.7 242.6,1163.6C245.1,1163.4 252.9,1167.6 255.4,1170.5C257.9,1173.3 265,1188 267.5,1192.3C270,1196.5 278.2,1210.9 280.7,1213C283.1,1215.1 289.4,1215.9 291.7,1213.7C294,1211.5 301.4,1196.9 303.8,1191.2C306.2,1185.5 313.5,1162.1 315.9,1156.7C318.3,1151.2 325.6,1139.5 328,1136.9C330.4,1134.4 337.5,1132.5 340.1,1130.7C342.7,1129 351.3,1123.4 353.9,1119.7C356.5,1115.9 363.8,1098.5 366,1093.4C368.3,1088.3 374.2,1071.3 376.4,1068.5C378.7,1065.7 386.1,1063 388.5,1065.1C390.9,1067.1 398,1084.3 400.6,1089.2C403.2,1094.2 411.8,1111.5 414.4,1114.1C417,1116.7 424.1,1116.8 426.5,1115.2C428.9,1113.5 436.2,1100.8 438.6,1097.9C441,1095 448.1,1086.5 450.7,1086.5C453.3,1086.5 462,1095.4 464.6,1097.9C467.1,1100.4 474.1,1110.5 476.7,1111.7C479.2,1112.9 487.9,1112.1 490.5,1110C493.1,1107.9 500.3,1094.5 502.6,1091C504.8,1087.4 510.5,1076.3 512.9,1074.7C515.4,1073.2 524.2,1073.4 526.8,1075.4C529.4,1077.4 536.5,1090.6 538.9,1094.4C541.3,1098.3 548.5,1111.2 551,1114.1C553.4,1117.1 560.6,1122.6 563.1,1123.8C565.5,1125.1 572.7,1126.6 575.2,1126.6C577.6,1126.5 584.8,1124.3 587.3,1123.1C589.7,1122 596.9,1116.7 599.4,1115.2C601.8,1113.6 609,1108.4 611.5,1107.6C613.9,1106.7 621.1,1106 623.6,1106.5C626,1107 633.2,1111.2 635.7,1112.4C638.1,1113.6 645.3,1118.5 647.8,1118.6C650.2,1118.7 657.4,1115.3 659.9,1113.4C662.3,1111.5 669.5,1102.1 671.9,1099.6C674.4,1097.1 681.6,1089.8 684,1088.6C686.5,1087.3 693.7,1086.1 696.1,1086.8C698.6,1087.6 705.8,1093.8 708.2,1096.2C710.7,1098.5 717.7,1108 720.3,1110.7C722.9,1113.4 731.5,1121.4 734.2,1123.1C736.8,1124.9 744.2,1127.9 746.7,1128C749.1,1128.1 756.5,1125.6 758.8,1123.8C761,1122.1 766.9,1114.3 769.1,1110.7C771.4,1107.2 778.6,1092.2 781.2,1088.2C783.8,1084.3 792.3,1073.2 795.1,1071C797.8,1068.7 806.5,1066.4 808.9,1065.8C811.3,1065.2 817,1065.9 819.3,1065.1C821.5,1064.2 828.9,1059.6 831.4,1057.1C833.8,1054.7 841,1044.5 843.4,1040.9C845.9,1037.3 853.1,1024.3 855.5,1020.8C858,1017.4 865.2,1008.4 867.6,1006.3C870.1,1004.2 877.2,1000.2 879.7,1000.1C882.3,1000 891,1003.6 893.6,1005.3C896.2,1007 903.2,1014.6 905.7,1017.4C908.1,1020.1 915.3,1030.5 917.8,1032.9C920.2,1035.4 927.4,1041.2 929.9,1041.6C932.3,1041.9 939.5,1039 942,1036.4C944.4,1033.8 951.6,1019.8 954.1,1015.7C956.5,1011.5 963.7,997.9 966.2,994.9C968.6,992 975.8,986.8 978.3,986.3C980.7,985.8 987.8,988.6 990.4,989.7C992.9,990.8 1001.6,996.1 1004.2,997.3C1006.8,998.6 1013.9,1001.1 1016.3,1002.2C1018.7,1003.2 1026,1006.3 1028.4,1007.7C1030.8,1009.2 1038.1,1014.5 1040.5,1016.7C1042.9,1018.9 1050,1026.8 1052.6,1029.5C1055.2,1032.1 1063.8,1041.1 1066.4,1043.3C1069,1045.6 1076.1,1050.6 1078.5,1051.9C1080.9,1053.3 1088.2,1055.8 1090.6,1056.4C1093,1057.1 1100.4,1058.3 1102.7,1058.9C1104.9,1059.5 1110.8,1061.2 1113.1,1062.3C1115.3,1063.4 1122.7,1068 1125.2,1069.9C1127.6,1071.8 1134.7,1079 1137.3,1081.3C1139.9,1083.7 1148.3,1092.3 1151.1,1093.4C1153.9,1094.5 1162.3,1094.6 1164.9,1092.4C1167.5,1090.1 1174.8,1076 1177,1071C1179.3,1065.9 1185.3,1047.8 1187.4,1041.6C1189.5,1035.4 1195.7,1016 1197.8,1008.7C1199.8,1001.5 1206,977.1 1208.1,969C1210.2,960.9 1216.7,936.2 1218.5,927.5C1220.3,918.9 1224.5,892.6 1226.1,882.6C1227.7,872.6 1232.6,838.3 1234,827.3C1235.5,816.2 1239.5,782.3 1241,772C1242.4,761.6 1247.5,732.2 1248.9,723.6C1250.3,714.9 1253.9,691.9 1255.1,685.5C1256.4,679.2 1259.7,663.4 1261.4,659.6C1263,655.8 1269.8,648.5 1272.1,647.5C1274.4,646.6 1281.9,649.9 1284.2,650.3C1286.5,650.7 1292.5,651.7 1294.9,651.7C1297.4,651.7 1306.2,648.8 1308.8,650.3C1311.4,651.8 1318.5,660.9 1320.9,666.5C1323.2,672.1 1330.2,697.5 1332.3,706.3C1334.4,715.1 1340.1,744.7 1341.9,754.7C1343.8,764.7 1349.2,796.5 1350.9,806.5C1352.7,816.6 1357.3,844.4 1359.2,854.9C1361.2,865.5 1368.4,903 1370.6,912C1372.8,920.9 1378.9,940 1381.4,944.8C1383.8,949.6 1392.6,960.3 1395.2,960.3C1397.8,960.3 1405,949.5 1407.3,944.8C1409.5,940.1 1415.6,919.2 1417.6,913.7C1419.7,908.2 1426.3,892.7 1428,889.5C1429.7,886.3 1433.2,882.2 1434.9,881.5C1436.7,880.8 1443.1,880.1 1445.3,882.6C1447.5,885.1 1455,901.9 1457.4,906.8C1459.8,911.6 1467.1,928 1469.5,931C1471.9,933.9 1479.2,936.2 1481.6,936.2C1484,936.2 1491.3,930.8 1493.7,931C1496.1,931.1 1503.4,934.3 1505.8,937.9C1508.2,941.5 1515.5,960.5 1517.9,967.3C1520.3,974 1527.6,998.2 1530,1005.3C1532.4,1012.4 1539.7,1033.1 1542.1,1038.1C1544.5,1043.1 1551.6,1052.6 1554.2,1055.4C1556.8,1058.2 1565.4,1063.9 1568,1065.8C1570.6,1067.6 1577.7,1072.4 1580.1,1073.7C1582.5,1075 1589.8,1078.8 1592.2,1078.9C1594.6,1079 1601.9,1076.4 1604.3,1074.4C1606.7,1072.4 1614,1062.7 1616.4,1058.9C1618.8,1055.1 1626.1,1040.7 1628.5,1036.4C1630.9,1032.1 1638.2,1018 1640.6,1015.7C1643,1013.3 1650.3,1011.7 1652.7,1013.2C1655.1,1014.8 1662.4,1026.1 1664.8,1031.2C1667.2,1036.3 1674.5,1057.1 1676.9,1064C1679.3,1071 1686.4,1094.3 1689,1100.3C1691.6,1106.4 1700.2,1121.8 1702.8,1124.5C1705.4,1127.2 1712.5,1127.4 1714.9,1127.3C1717.3,1127.2 1724.6,1124.4 1727,1123.8C1729.4,1123.3 1736.5,1121.8 1739.1,1121.8C1741.7,1121.7 1750.3,1123.3 1752.9,1123.5C1755.5,1123.7 1762.4,1124.8 1765,1123.8C1767.6,1122.9 1776.1,1116.5 1778.9,1114.2C1781.6,1111.8 1789.9,1102.9 1792.7,1100.3C1795.5,1097.7 1803.8,1090 1806.5,1088.2C1809.3,1086.4 1817.2,1083.2 1820.3,1082.4C1823.5,1081.6 1835,1080.7 1837.6,1080.3C1840.3,1079.9 1844.7,1078.3 1847,1077.9C1849.3,1077.6 1858,1077.9 1860.7,1076.8C1863.5,1075.7 1871.9,1069.9 1874.4,1067C1877,1064 1883.8,1051.8 1886.2,1047.4C1888.5,1043 1895.4,1027.1 1897.9,1022.7C1900.5,1018.3 1909,1004.7 1911.6,1003.1C1914.3,1001.6 1922,1004.6 1924.6,1007C1927.1,1009.5 1934.7,1023.6 1937.1,1027.8C1939.5,1032 1946.5,1045.7 1948.8,1049.3C1951.2,1053 1958.2,1062.1 1960.6,1064.2C1962.9,1066.4 1970,1069.4 1972.3,1070.9C1974.7,1072.3 1981.6,1076.7 1984.1,1078.7C1986.6,1080.8 1995.3,1089.4 1997.8,1091.7C2000.4,1093.9 2007.2,1100.1 2009.6,1101.1C2011.9,1102 2019,1102.7 2021.3,1101.1C2023.7,1099.4 2030.7,1088.6 2033.1,1084.6C2035.4,1080.6 2042.3,1065.9 2044.8,1061.1C2047.3,1056.3 2055.1,1039.2 2057.7,1036.4C2060.4,1033.7 2068.4,1032.3 2071.1,1033.7C2073.7,1035.1 2081.5,1045.8 2084,1050.1C2086.4,1054.4 2093.4,1071.7 2095.7,1076.8C2098.1,1081.9 2105.1,1097.1 2107.5,1101.1C2109.8,1105 2116.8,1114.5 2119.2,1116.7C2121.7,1118.9 2129.6,1122.6 2132.2,1123C2134.7,1123.4 2142.1,1121.5 2144.7,1120.6C2147.3,1119.8 2155.7,1115.8 2158.4,1114.8C2161.1,1113.7 2169.4,1110.8 2172.1,1110.1C2174.9,1109.3 2183.3,1107.8 2185.8,1107.3C2188.4,1106.8 2195.4,1105.6 2197.6,1105C2199.7,1104.4 2205.2,1102.5 2207.4,1101.4C2209.5,1100.4 2216.8,1095.9 2219.1,1094.4C2221.5,1092.9 2228.5,1087.8 2230.9,1086.6C2233.2,1085.3 2240.3,1082.6 2242.6,1081.9C2245,1081.2 2252,1080.1 2254.4,1079.5C2256.7,1078.9 2263.8,1077.6 2266.1,1076C2268.5,1074.4 2275.3,1067.1 2277.9,1063.8C2280.4,1060.6 2289,1046.8 2291.6,1043.5C2294.2,1040.2 2301.6,1031.6 2304.1,1030.9C2306.7,1030.2 2314.6,1034.3 2317,1036.4C2319.5,1038.6 2326.2,1049.2 2328.8,1052.5C2331.3,1055.8 2340,1067.6 2342.5,1069.7C2345,1071.9 2351.9,1073.6 2354.2,1074C2356.6,1074.5 2363.7,1072.9 2366,1074C2368.4,1075.2 2375.4,1082 2377.8,1085.8C2380.1,1089.6 2387.2,1106.3 2389.5,1112C2391.9,1117.8 2398.8,1139.2 2401.3,1143.4C2403.7,1147.5 2411.2,1154.7 2413.8,1153.9C2416.3,1153.1 2424.2,1140.5 2426.7,1135.5C2429.2,1130.5 2436.2,1110.2 2438.5,1104.2C2440.7,1098.2 2447.4,1079.2 2449.4,1075.6C2451.5,1072 2457.9,1068.9 2458.8,1068.2" fill="none" stroke="#0000ff" stroke-width="11.5" stroke-linejoin="round" stroke-linecap="butt" clip-path="url(#c2)"/>
<line x1="168.8" y1="532" x2="168.8" y2="1270.1" stroke="#000" stroke-width="5.3" stroke-linecap="round" />
<line x1="168.8" y1="1229.1" x2="2458.9" y2="1229.1" stroke="#000" stroke-width="5.5" stroke-linecap="butt" />
<line x1="194.2" y1="1229.1" x2="194.2" y2="1249.6" stroke="#000" stroke-width="5.3" stroke-linecap="round" />
<line x1="219.7" y1="1229.1" x2="219.7" y2="1249.6" stroke="#000" stroke-width="5.3" stroke-linecap="round" />
<line x1="245.1" y1="1229.1" x2="245.1" y2="1249.6" stroke="#000" stroke-width="5.3" stroke-linecap="round" />
<line x1="270.6" y1="1229.1" x2="270.6" y2="1249.6" stroke="#000" stroke-width="5.3" stroke-linecap="round" />
<line x1="296" y1="1229.1" x2="296" y2="1249.6" stroke="#000" stroke-width="5.3" stroke-linecap="round" />
<line x1="321.5" y1="1229.1" x2="321.5" y2="1249.6" stroke="#000" stroke-width="5.3" stroke-linecap="round" />
<line x1="346.9" y1="1229.1" x2="346.9" y2="1249.6" stroke="#000" stroke-width="5.3" stroke-linecap="round" />
<line x1="372.4" y1="1229.1" x2="372.4" y2="1249.6" stroke="#000" stroke-width="5.3" stroke-linecap="round" />
<line x1="397.8" y1="1229.1" x2="397.8" y2="1249.6" stroke="#000" stroke-width="5.3" stroke-linecap="round" />
<line x1="423.2" y1="1229.1" x2="423.2" y2="1270.1" stroke="#000" stroke-width="5.3" stroke-linecap="round" />
<line x1="448.7" y1="1229.1" x2="448.7" y2="1249.6" stroke="#000" stroke-width="5.3" stroke-linecap="round" />
<line x1="474.1" y1="1229.1" x2="474.1" y2="1249.6" stroke="#000" stroke-width="5.3" stroke-linecap="round" />
<line x1="499.6" y1="1229.1" x2="499.6" y2="1249.6" stroke="#000" stroke-width="5.3" stroke-linecap="round" />
<line x1="525" y1="1229.1" x2="525" y2="1249.6" stroke="#000" stroke-width="5.3" stroke-linecap="round" />
<line x1="550.5" y1="1229.1" x2="550.5" y2="1249.6" stroke="#000" stroke-width="5.3" stroke-linecap="round" />
<line x1="575.9" y1="1229.1" x2="575.9" y2="1249.6" stroke="#000" stroke-width="5.3" stroke-linecap="round" />
<line x1="601.4" y1="1229.1" x2="601.4" y2="1249.6" stroke="#000" stroke-width="5.3" stroke-linecap="round" />
<line x1="626.8" y1="1229.1" x2="626.8" y2="1249.6" stroke="#000" stroke-width="5.3" stroke-linecap="round" />
<line x1="652.3" y1="1229.1" x2="652.3" y2="1249.6" stroke="#000" stroke-width="5.3" stroke-linecap="round" />
<line x1="677.7" y1="1229.1" x2="677.7" y2="1270.1" stroke="#000" stroke-width="5.3" stroke-linecap="round" />
<line x1="703.1" y1="1229.1" x2="703.1" y2="1249.6" stroke="#000" stroke-width="5.3" stroke-linecap="round" />
<line x1="728.6" y1="1229.1" x2="728.6" y2="1249.6" stroke="#000" stroke-width="5.3" stroke-linecap="round" />
<line x1="754" y1="1229.1" x2="754" y2="1249.6" stroke="#000" stroke-width="5.3" stroke-linecap="round" />
<line x1="779.5" y1="1229.1" x2="779.5" y2="1249.6" stroke="#000" stroke-width="5.3" stroke-linecap="round" />
<line x1="804.9" y1="1229.1" x2="804.9" y2="1249.6" stroke="#000" stroke-width="5.3" stroke-linecap="round" />
<line x1="830.4" y1="1229.1" x2="830.4" y2="1249.6" stroke="#000" stroke-width="5.3" stroke-linecap="round" />
<line x1="855.8" y1="1229.1" x2="855.8" y2="1249.6" stroke="#000" stroke-width="5.3" stroke-linecap="round" />
<line x1="881.3" y1="1229.1" x2="881.3" y2="1249.6" stroke="#000" stroke-width="5.3" stroke-linecap="round" />
<line x1="906.7" y1="1229.1" x2="906.7" y2="1249.6" stroke="#000" stroke-width="5.3" stroke-linecap="round" />
<line x1="932.2" y1="1229.1" x2="932.2" y2="1270.1" stroke="#000" stroke-width="5.3" stroke-linecap="round" />
<line x1="957.6" y1="1229.1" x2="957.6" y2="1249.6" stroke="#000" stroke-width="5.3" stroke-linecap="round" />
<line x1="983" y1="1229.1" x2="983" y2="1249.6" stroke="#000" stroke-width="5.3" stroke-linecap="round" />
<line x1="1008.5" y1="1229.1" x2="1008.5" y2="1249.6" stroke="#000" stroke-width="5.3" stroke-linecap="round" />
<line x1="1033.9" y1="1229.1" x2="1033.9" y2="1249.6" stroke="#000" stroke-width="5.3" stroke-linecap="round" />
<line x1="1059.4" y1="1229.1" x2="1059.4" y2="1249.6" stroke="#000" stroke-width="5.3" stroke-linecap="round" />
<line x1="1084.8" y1="1229.1" x2="1084.8" y2="1249.6" stroke="#000" stroke-width="5.3" stroke-linecap="round" />
<line x1="1110.3" y1="1229.1" x2="1110.3" y2="1249.6" stroke="#000" stroke-width="5.3" stroke-linecap="round" />
<line x1="1135.7" y1="1229.1" x2="1135.7" y2="1249.6" stroke="#000" stroke-width="5.3" stroke-linecap="round" />
<line x1="1161.2" y1="1229.1" x2="1161.2" y2="1249.6" stroke="#000" stroke-width="5.3" stroke-linecap="round" />
<line x1="1186.6" y1="1229.1" x2="1186.6" y2="1270.1" stroke="#000" stroke-width="5.3" stroke-linecap="round" />
<line x1="1212" y1="1229.1" x2="1212" y2="1249.6" stroke="#000" stroke-width="5.3" stroke-linecap="round" />
<line x1="1237.5" y1="1229.1" x2="1237.5" y2="1249.6" stroke="#000" stroke-width="5.3" stroke-linecap="round" />
<line x1="1262.9" y1="1229.1" x2="1262.9" y2="1249.6" stroke="#000" stroke-width="5.3" stroke-linecap="round" />
<line x1="1288.4" y1="1229.1" x2="1288.4" y2="1249.6" stroke="#000" stroke-width="5.3" stroke-linecap="round" />
<line x1="1313.8" y1="1229.1" x2="1313.8" y2="1249.6" stroke="#000" stroke-width="5.3" stroke-linecap="round" />
<line x1="1339.3" y1="1229.1" x2="1339.3" y2="1249.6" stroke="#000" stroke-width="5.3" stroke-linecap="round" />
<line x1="1364.7" y1="1229.1" x2="1364.7" y2="1249.6" stroke="#000" stroke-width="5.3" stroke-linecap="round" />
<line x1="1390.2" y1="1229.1" x2="1390.2" y2="1249.6" stroke="#000" stroke-width="5.3" stroke-linecap="round" />
<line x1="1415.6" y1="1229.1" x2="1415.6" y2="1249.6" stroke="#000" stroke-width="5.3" stroke-linecap="round" />
<line x1="1441" y1="1229.1" x2="1441" y2="1270.1" stroke="#000" stroke-width="5.3" stroke-linecap="round" />
<line x1="1466.5" y1="1229.1" x2="1466.5" y2="1249.6" stroke="#000" stroke-width="5.3" stroke-linecap="round" />
<line x1="1491.9" y1="1229.1" x2="1491.9" y2="1249.6" stroke="#000" stroke-width="5.3" stroke-linecap="round" />
<line x1="1517.4" y1="1229.1" x2="1517.4" y2="1249.6" stroke="#000" stroke-width="5.3" stroke-linecap="round" />
<line x1="1542.8" y1="1229.1" x2="1542.8" y2="1249.6" stroke="#000" stroke-width="5.3" stroke-linecap="round" />
<line x1="1568.3" y1="1229.1" x2="1568.3" y2="1249.6" stroke="#000" stroke-width="5.3" stroke-linecap="round" />
<line x1="1593.7" y1="1229.1" x2="1593.7" y2="1249.6" stroke="#000" stroke-width="5.3" stroke-linecap="round" />
<line x1="1619.2" y1="1229.1" x2="1619.2" y2="1249.6" stroke="#000" stroke-width="5.3" stroke-linecap="round" />
<line x1="1644.6" y1="1229.1" x2="1644.6" y2="1249.6" stroke="#000" stroke-width="5.3" stroke-linecap="round" />
<line x1="1670.1" y1="1229.1" x2="1670.1" y2="1249.6" stroke="#000" stroke-width="5.3" stroke-linecap="round" />
<line x1="1695.5" y1="1229.1" x2="1695.5" y2="1270.1" stroke="#000" stroke-width="5.3" stroke-linecap="round" />
<line x1="1720.9" y1="1229.1" x2="1720.9" y2="1249.6" stroke="#000" stroke-width="5.3" stroke-linecap="round" />
<line x1="1746.4" y1="1229.1" x2="1746.4" y2="1249.6" stroke="#000" stroke-width="5.3" stroke-linecap="round" />
<line x1="1771.8" y1="1229.1" x2="1771.8" y2="1249.6" stroke="#000" stroke-width="5.3" stroke-linecap="round" />
<line x1="1797.3" y1="1229.1" x2="1797.3" y2="1249.6" stroke="#000" stroke-width="5.3" stroke-linecap="round" />
<line x1="1822.7" y1="1229.1" x2="1822.7" y2="1249.6" stroke="#000" stroke-width="5.3" stroke-linecap="round" />
<line x1="1848.2" y1="1229.1" x2="1848.2" y2="1249.6" stroke="#000" stroke-width="5.3" stroke-linecap="round" />
<line x1="1873.6" y1="1229.1" x2="1873.6" y2="1249.6" stroke="#000" stroke-width="5.3" stroke-linecap="round" />
<line x1="1899.1" y1="1229.1" x2="1899.1" y2="1249.6" stroke="#000" stroke-width="5.3" stroke-linecap="round" />
<line x1="1924.5" y1="1229.1" x2="1924.5" y2="1249.6" stroke="#000" stroke-width="5.3" stroke-linecap="round" />
<line x1="1950" y1="1229.1" x2="1950" y2="1270.1" stroke="#000" stroke-width="5.3" stroke-linecap="round" />
<line x1="1975.4" y1="1229.1" x2="1975.4" y2="1249.6" stroke="#000" stroke-width="5.3" stroke-linecap="round" />
<line x1="2000.8" y1="1229.1" x2="2000.8" y2="1249.6" stroke="#000" stroke-width="5.3" stroke-linecap="round" />
<line x1="2026.3" y1="1229.1" x2="2026.3" y2="1249.6" stroke="#000" stroke-width="5.3" stroke-linecap="round" />
<line x1="2051.7" y1="1229.1" x2="2051.7" y2="1249.6" stroke="#000" stroke-width="5.3" stroke-linecap="round" />
<line x1="2077.2" y1="1229.1" x2="2077.2" y2="1249.6" stroke="#000" stroke-width="5.3" stroke-linecap="round" />
<line x1="2102.6" y1="1229.1" x2="2102.6" y2="1249.6" stroke="#000" stroke-width="5.3" stroke-linecap="round" />
<line x1="2128.1" y1="1229.1" x2="2128.1" y2="1249.6" stroke="#000" stroke-width="5.3" stroke-linecap="round" />
<line x1="2153.5" y1="1229.1" x2="2153.5" y2="1249.6" stroke="#000" stroke-width="5.3" stroke-linecap="round" />
<line x1="2179" y1="1229.1" x2="2179" y2="1249.6" stroke="#000" stroke-width="5.3" stroke-linecap="round" />
<line x1="2204.4" y1="1229.1" x2="2204.4" y2="1270.1" stroke="#000" stroke-width="5.3" stroke-linecap="round" />
<line x1="2229.8" y1="1229.1" x2="2229.8" y2="1249.6" stroke="#000" stroke-width="5.3" stroke-linecap="round" />
<line x1="2255.3" y1="1229.1" x2="2255.3" y2="1249.6" stroke="#000" stroke-width="5.3" stroke-linecap="round" />
<line x1="2280.7" y1="1229.1" x2="2280.7" y2="1249.6" stroke="#000" stroke-width="5.3" stroke-linecap="round" />
<line x1="2306.2" y1="1229.1" x2="2306.2" y2="1249.6" stroke="#000" stroke-width="5.3" stroke-linecap="round" />
<line x1="2331.6" y1="1229.1" x2="2331.6" y2="1249.6" stroke="#000" stroke-width="5.3" stroke-linecap="round" />
<line x1="2357.1" y1="1229.1" x2="2357.1" y2="1249.6" stroke="#000" stroke-width="5.3" stroke-linecap="round" />
<line x1="2382.5" y1="1229.1" x2="2382.5" y2="1249.6" stroke="#000" stroke-width="5.3" stroke-linecap="round" />
<line x1="2408" y1="1229.1" x2="2408" y2="1249.6" stroke="#000" stroke-width="5.3" stroke-linecap="round" />
<line x1="2433.4" y1="1229.1" x2="2433.4" y2="1249.6" stroke="#000" stroke-width="5.3" stroke-linecap="round" />
<text x="108.4" y="1322.2" font-family='"Liberation Sans", Arial, sans-serif' font-size="54.4" font-weight="bold" font-style="normal" fill="#000" >2750</text>
<text x="362.9" y="1322.2" font-family='"Liberation Sans", Arial, sans-serif' font-size="54.4" font-weight="bold" font-style="normal" fill="#000" >2740</text>
<text x="617.3" y="1322.2" font-family='"Liberation Sans", Arial, sans-serif' font-size="54.4" font-weight="bold" font-style="normal" fill="#000" >2730</text>
<text x="871.8" y="1322.2" font-family='"Liberation Sans", Arial, sans-serif' font-size="54.4" font-weight="bold" font-style="normal" fill="#000" >2720</text>
<text x="1126.2" y="1322.2" font-family='"Liberation Sans", Arial, sans-serif' font-size="54.4" font-weight="bold" font-style="normal" fill="#000" >2710</text>
<text x="1380.7" y="1322.2" font-family='"Liberation Sans", Arial, sans-serif' font-size="54.4" font-weight="bold" font-style="normal" fill="#000" >2700</text>
<text x="1635.1" y="1322.2" font-family='"Liberation Sans", Arial, sans-serif' font-size="54.4" font-weight="bold" font-style="normal" fill="#000" >2690</text>
<text x="1889.6" y="1322.2" font-family='"Liberation Sans", Arial, sans-serif' font-size="54.4" font-weight="bold" font-style="normal" fill="#000" >2680</text>
<text x="2144" y="1322.2" font-family='"Liberation Sans", Arial, sans-serif' font-size="54.4" font-weight="bold" font-style="normal" fill="#000" >2670</text>
<text x="2281" y="1324.1" font-family='"Liberation Serif", "Times New Roman", serif' font-size="56" font-weight="normal" font-style="italic" fill="#000" >ν</text>
<text x="2282.8" y="1308.9" font-family='"Liberation Serif", "Times New Roman", serif' font-size="57" font-weight="bold" font-style="normal" fill="#000" >~</text>
<text x="2314.1" y="1324.1" font-family='"Liberation Sans", Arial, sans-serif' font-size="54.3" font-weight="bold" font-style="normal" fill="#000" >/ cm</text>
<text x="2420.2" y="1298.4" font-family='"Liberation Serif", "Times New Roman", serif' font-size="39" font-weight="normal" font-style="normal" fill="#000" >−</text>
<text x="2441.3" y="1293.7" font-family='"Liberation Sans", Arial, sans-serif' font-size="37" font-weight="bold" font-style="normal" fill="#000" >1</text>
<line x1="141.6" y1="662.8" x2="141.6" y2="1113.4" stroke="#000" stroke-width="5" stroke-linecap="butt" />
<line x1="128.5" y1="662.8" x2="155.5" y2="662.8" stroke="#000" stroke-width="5" stroke-linecap="round" />
<line x1="128.5" y1="1113.4" x2="155.5" y2="1113.4" stroke="#000" stroke-width="5" stroke-linecap="round" />
<text x="208.1" y="697" font-family='"Liberation Sans", Arial, sans-serif' font-size="54.2" font-weight="bold" font-style="normal" fill="#000" >FTIR experiment:</text>
<text x="208.5" y="753.8" font-family='"Liberation Sans", Arial, sans-serif' font-size="54.2" font-weight="bold" font-style="normal" fill="#008000" >OD vapor </text>
<text x="465.6" y="760.4" font-family='"Liberation Serif", "Times New Roman", serif' font-size="56.8" font-weight="normal" font-style="normal" fill="#008000" >×</text>
<text x="495.4" y="753.8" font-family='"Liberation Sans", Arial, sans-serif' font-size="54.2" font-weight="bold" font-style="normal" fill="#008000" >0.05</text>
<text x="208.5" y="821.4" font-family='"Liberation Sans", Arial, sans-serif' font-size="54.2" font-weight="bold" font-style="normal" fill="#0000ff" >OD jet</text>
<text transform="translate(88.9,1087.5) rotate(-90)" font-family='"Liberation Sans", Arial, sans-serif' font-size="56.2" font-weight="bold" fill="#000"><tspan font-family='"Liberation Serif", "Times New Roman", serif' font-weight="normal" font-size="54">Δ</tspan>lg(<tspan font-style="italic">I</tspan><tspan font-size="42" dy="21.7">0</tspan><tspan dy="-21.7" font-style="italic">/I</tspan>) = 3<tspan font-family='"Liberation Serif", "Times New Roman", serif' font-weight="bold" font-size="46">·</tspan>10<tspan dy="-30" font-size="42"><tspan font-family='"Liberation Serif", "Times New Roman", serif' font-weight="normal" font-size="33" dx="1">−</tspan><tspan dx="1">5</tspan></tspan></text>
<clipPath id="c3"><rect x="168.8" y="1352.6" width="2290.1" height="966.2"/></clipPath>
<polyline points="168.7,2285.5 178.8,2291.3 193.2,2279.8 207.6,2280.6 222,2281.8 236.4,2281.2 247.9,2281.8 265.2,2281.2 278.2,2277.8 290.3,2255.9 299.8,2255.3 309.9,2252.4 319.9,2253.9 328.6,2259.6 340.1,2252.4 351.6,2245.2 366,2238 380.4,2238 394.8,2229.4 409.2,2243.8 420.7,2240.9 430.8,2235.1 440.9,2230.8 455.3,2220.7 466.8,2207.8 475.5,2207.8 485.5,2194.8 495.6,2184.7 504.3,2182.7 514.3,2155.9 524.4,2144.4 538.8,2134.3 553.2,2096.9 564.7,2065.2 573.4,2049.4 582,2039.3 590.7,2016.2 599.3,2029.2 610.8,2016.2 623,2059.4 630.2,2088.2 637.4,2117.1 646.1,2130 657.6,2138.7 667.7,2157.4 676.3,2174.7 685,2181.9 695,2190.5 715.2,2194.8 723.3,2160.3 733.9,2176.1 742.6,2200.6 751.2,2194.8 761.3,2202 771.4,2193.4 780,2202 790.1,2171.8 800.2,2168.9 808.8,2145.9 817.5,2111.3 823.2,2050.8 827.5,1993.2 831.9,1950 837.6,1839.2 841.4,1781.6 845.4,1747.1 850.6,1718.2 855.8,1706.7 863.5,1716.8 869.3,1752.8 875.1,1787.4 880.8,1824.8 886.6,1862.3 892.3,1896.8 899.5,1931.4 905.3,1978.8 912.5,2007.6 921.1,2033.5 931.2,2065.2 939.9,2095.4 947.1,2059.4 952.8,2007.6 958.6,1950 961.5,1911.2 965.8,1839.2 969.5,1781.6 973.6,1724 977.9,1687.1 985.9,1729.8 990.3,1781.6 994.6,1839.2 998.9,1896.8 1003.2,1950 1007.5,2022 1013.3,2108.4 1020.5,2160.3 1026.3,2191.9 1032,2207.8 1042.1,2213.5 1072.4,2206.3 1081,2168.9 1089.6,2143 1099,2116 1109,2105.9 1117.7,2126.1 1127.2,2140.5 1136.4,2192.3 1146.5,2196.7 1155.1,2185.1 1165.2,2172.2 1175.3,2163.5 1184.8,2167.9 1194,2163.5 1204.1,2182.3 1211.3,2144.8 1219.9,2118.9 1228.6,2084.3 1237.2,2038.2 1241.5,1972 1245.9,1900 1250.8,1820.8 1255.1,1763.2 1260.3,1737.3 1265.2,1745.9 1271,1792 1279.6,1849.6 1289.7,1904.4 1294,1820.8 1299.8,1705.6 1307,1590.4 1314.2,1475.2 1319.9,1417.6 1325.1,1397.4 1330,1475.2 1335.8,1619.2 1340.1,1734.4 1345.9,1878.4 1349.5,1928.8 1355.3,1972 1362.5,2044 1368.3,2084.3 1381.2,2103.1 1391.3,2095.9 1399.9,2049.8 1407.1,1972 1412.9,1900 1416.4,1763.2 1423.6,1728.7 1433.7,1688.3 1440.9,1720 1446.7,1763.2 1453.9,1820.8 1459.6,1864 1466,1869.8 1472.6,1835.2 1478.3,1777.6 1482.7,1748.8 1494.2,1734.4 1504.8,1745.9 1510,1820.8 1518,1986.4 1525.2,2072.8 1533.9,2136.2 1542.5,2176.5 1550.4,2201 1559.6,2198.1 1567.7,2213.9 1576.3,2219.7 1587.8,2213.9 1596.5,2239.9 1606.6,2237 1616.6,2242.7 1625.3,2241.3 1635.4,2257.1 1644,2268.7 1652.6,2260 1664.2,2257.7 1678.6,2255.7 1687.2,2237 1695.9,2211.1 1704.5,2173.6 1713.1,2139.1 1720.3,2116 1729,2100.2 1736.2,2144.8 1744.8,2196.7 1753.5,2231.2 1762.1,2248.5 1770.7,2260 1779.4,2277.3 1788,2283.1 1802.4,2283.1 1812.5,2281.6 1822.6,2278.7 1831.2,2283.1 1842.7,2287.4 1851.4,2283.1 1862.9,2283.1 1871.5,2283.1 1880.2,2278.7 1888.8,2274.4 1897.5,2274.4 1907.5,2270.1 1916.2,2265.8 1926.3,2264.3 1936.3,2262.3 1946.4,2264.3 1955.1,2268.7 1963.7,2275.9 1972.4,2278.7 1981,2284.5 2000,2287.4 2011.1,2283.1 2020.2,2287.7 2029.4,2283.1 2041.6,2286.2 2053.8,2283.1 2069.1,2284.7 2087.4,2286.2 2102.6,2280.1 2114.9,2280.1 2124,2283.1 2131.7,2266.4 2137.8,2220.6 2143.9,2138.1 2148.4,2052.6 2153,1976.3 2157.6,1900 2164.1,1822.6 2168.2,1730.4 2171,1661.3 2180.4,1618.7 2184.3,1661.3 2188.9,1730.4 2194.7,1822.6 2200.3,1900 2204.9,1961.1 2209.5,2022.1 2214.1,2071 2218.7,2110.7 2226.3,2150.3 2235.5,2180.9 2244.6,2211.4 2255.3,2231.2 2264.5,2257.2 2273.6,2274 2284.3,2270.9 2293.5,2286.2 2304.1,2283.1 2313.3,2290.8 2324,2287.7 2334.7,2286.2 2343.8,2290.8 2353,2293.8 2362.2,2292.3 2372.8,2296.9 2386.6,2297.5 2395.7,2292.3 2404.9,2295.4 2415.6,2303 2424.7,2299.9 2435.4,2305.4 2444.6,2295.4 2452.2,2298.4 2458.9,2299.9" fill="none" stroke="#ff0000" stroke-width="10" stroke-linejoin="round" stroke-linecap="butt" clip-path="url(#c3)"/>
<polyline points="168.7,2285.5 177.9,2294.2 188.9,2282.7 206.2,2289.9 223.4,2284.7 233.5,2287 242.2,2287 253.7,2295.6 271,2289.9 282.5,2284.1 290.3,2266.8 299.8,2262.5 311.3,2263.9 319.9,2269.7 327.7,2243.8 340.1,2248.1 348.7,2249.5 358.8,2246.7 366,2255.3 375.2,2230.8 383.3,2251 394.8,2246.7 403.5,2238 412.1,2243.8 422.2,2245.2 430.8,2235.1 440.9,2248.1 451,2242.3 459.6,2249.5 468.3,2242.3 478.3,2227.9 488.4,2235.1 497.1,2204.9 507.1,2200.6 515.8,2174.7 525.9,2212.1 534.5,2166 544.6,2186.2 554.7,2186.2 563.3,2150.2 571.9,2134.3 582,2108.4 592.1,2104.1 600.7,2112.7 610,2092.6 619.5,2105.5 628.1,2130 638.9,2174.7 647.5,2209.2 656.2,2163.1 666.2,2200.6 676.3,2236.6 685,2206.3 695,2207.8 715.2,2210.7 723.3,2202 732.5,2215 742.6,2227.9 751.2,2210.7 761.3,2246.7 771.4,2239.5 790.1,2233.7 800.2,2222.2 808.8,2203.5 817.5,2183.3 827.5,2177.5 836.2,2167.5 844.8,2094 853.5,2105.5 862.1,2099.8 873.6,2102.6 882.3,2088.2 892.3,2119.9 902.4,2092.6 911.1,2105.5 921.1,2099.8 931.2,2134.3 939.9,2128.6 949.9,2117.1 957.1,2065.2 962.9,1993.2 970.1,1911.2 977.3,1856.5 985.9,1896.8 993.1,1970.2 997.5,2022 1003.2,2108.4 1010.4,2174.7 1017.6,2223.6 1023.4,2240.9 1033.5,2236.6 1043.5,2242.3 1072.4,2236.6 1081,2229.4 1089.6,2219.3 1100.4,2244.2 1109,2224 1119.1,2219.7 1127.2,2219.1 1136.4,2222 1146.5,2223.2 1155.1,2219.1 1165.2,2203.9 1175.3,2193.8 1183.9,2169.3 1194,2180.8 1204.1,2170.7 1212.7,2156.3 1221.4,2130.4 1228.6,2090.1 1232.9,2044 1235.8,1972 1238.7,1900 1242.2,1792 1247.9,1676.8 1253.7,1604.8 1260.3,1568.8 1265.2,1610.6 1271,1662.4 1275.3,1763.2 1281,1864 1284.7,1957.6 1286.8,1997.9 1297.7,1990.7 1300.6,1943.2 1303.5,1900 1305.5,1792 1311.3,1648 1317.1,1504 1322.8,1417.6 1325.1,1403.2 1334.3,1429.1 1338.7,1504 1343,1619.2 1347.3,1734.4 1351.6,1849.6 1355.3,2015.2 1361.1,2098.7 1379.8,2121.8 1390.7,2156.3 1399.9,2116 1407.1,2029.6 1412.9,1957.6 1417.2,1900 1420.7,1705.6 1425.1,1662.4 1433.7,1648 1440.9,1665.3 1445.2,1734.4 1451,1820.8 1457.5,1957.6 1465.6,2049.8 1474.8,2021 1479.1,1957.6 1484.9,1900 1487,1820.8 1491.3,1748.8 1499.9,1735.9 1507.1,1745.9 1511.5,1806.4 1518,1900 1523.8,1986.4 1531,2101.6 1535.3,2159.2 1539.6,2202.4 1549,2209.6 1559,2229.8 1569.1,2234.7 1577.8,2234.7 1587.8,2225.5 1596.5,2249.9 1606.6,2257.1 1616.6,2274.4 1625.3,2255.7 1635.4,2261.5 1646.9,2277.9 1654.1,2265.8 1664.2,2271 1682.9,2271.5 1691.5,2252.8 1701.6,2237 1710.3,2213.9 1718.9,2176.5 1724.7,2144.8 1729,2120.3 1734.7,2159.2 1740.5,2202.4 1747.7,2231.2 1756.3,2248.5 1765,2264.3 1773.6,2274.4 1783.7,2278.7 1793.8,2271.5 1803.9,2275.9 1812.5,2285.9 1822.6,2287.4 1831.2,2264.3 1841.3,2260 1851.4,2258.6 1861.5,2296 1868.7,2270.1 1878.7,2268.7 1887.4,2283.1 1897.5,2268.7 1906.1,2261.5 1916.2,2251.4 1926.3,2249.9 1935.5,2225.5 1945,2244.2 1955.1,2237 1963.7,2231.2 1973.8,2241.3 1983.9,2271.5 1992.5,2290.3 2000,2271.5 2011.1,2264.8 2020.2,2275.5 2030,2280.1 2039.1,2266.4 2049.2,2274 2058.4,2264.8 2068.5,2280.1 2076.7,2272.5 2087.4,2276.1 2096.5,2287.7 2105.7,2269.4 2114.9,2270.9 2124,2275.5 2133.2,2275.5 2140.8,2263.3 2150,2211.4 2162.2,2191.6 2171.3,2154.9 2181.4,2170.2 2189.7,2223.6 2200.3,2240.4 2209.5,2264.8 2218.1,2257.2 2227.8,2263.3 2237,2258.7 2245.5,2251.1 2255.3,2266.4 2264.5,2264.8 2273.6,2257.2 2284.3,2260.3 2293.5,2255.7 2302.6,2292.3 2311.8,2270.9 2322.5,2280.1 2331.6,2277 2340.8,2283.1 2349.9,2292.3 2359.1,2281.6 2368.9,2266.4 2377.4,2286.2 2386.6,2287.7 2395.7,2290.8 2404.9,2286.2 2415.6,2283.1 2426.3,2281 2435.4,2281.6 2444.6,2289.3 2452.2,2277 2458.9,2284.7" fill="none" stroke="#0000ff" stroke-width="10" stroke-linejoin="round" stroke-linecap="butt" clip-path="url(#c3)"/>
<polyline points="168.7,2265.4 177.9,2284.1 196.1,2259.6 209,2269.1 216.2,2272 225.5,2266.8 235,2270.3 243.6,2279.8 253.1,2249.5 266.6,2256.7 281,2263.9 290.3,2258.2 299.8,2269.7 309.9,2274 319.9,2262.5 328.6,2272 337.2,2263.9 347.3,2252.4 357.4,2276.9 367.5,2259.6 377.5,2249.5 384.7,2245.2 394.8,2262.5 403.5,2243.8 411.5,2229.4 422.2,2232.3 430.8,2219.3 441.5,2242.3 451,2222.2 459.6,2214.4 468.3,2219.3 478.3,2217.9 488.4,2197.7 497.9,2201.2 507.1,2196.3 515.2,2179 524.4,2181.9 535.9,2176.1 544.6,2143 553.2,2119.9 561.9,2076.7 571.9,2065.2 583.5,2047.9 593.5,2026.3 602.2,2003.3 611.5,2056.6 619.6,2102.6 628.8,2068.1 638.9,2109.9 647.5,2131.5 656.2,2151.6 666.2,2157.4 676.3,2170.3 686.4,2183.3 693.6,2168 715.2,2168 722.4,2189.1 732.5,2184.7 741.1,2193.4 751.2,2189.1 762.7,2196.3 769.9,2167.5 778.6,2171.2 788.7,2161.7 798.7,2160.3 807.4,2122.8 816,2085.4 827.5,2079.6 834.7,2068.1 846.3,2072.4 854.9,2063.8 863.5,2072.4 872.2,2050.8 880.8,2046.5 892.3,2043.6 902.4,2050.8 911.1,2082.5 921.1,2102.6 929.8,2148.7 939.9,2155.9 948.5,2183.3 958.6,2203.5 968.7,2227.9 978.7,2232.3 988.8,2239.5 1014.7,2239.5 1023.4,2251 1033.5,2242.3 1043.5,2268.3 1052.2,2262.5 1062.3,2255.3 1072.4,2263.9 1089.6,2259.6 1100.4,2267.2 1109,2280.2 1119.1,2275.9 1127.8,2247.1 1136.4,2281.6 1146.5,2267.2 1160.9,2275.9 1175.3,2284.5 1184.8,2293.1 1194,2284.5 1202.6,2275.9 1211.3,2283.1 1221.9,2291.7 1231.5,2274.4 1240.1,2270.1 1251.6,2280.2 1270.3,2281.6 1278.1,2260 1286.8,2288.8 1296.3,2275.9 1304.9,2280.2 1315,2272.1 1327.9,2277.3 1342.3,2283.1 1352.4,2284.5 1362.5,2288.8 1375.5,2290.3 1391.3,2290.3 1399.9,2283.1 1410,2291.7 1419.5,2297.5 1428.7,2290.3 1438.8,2284.5 1447.5,2278.7 1456.1,2301.8 1464.7,2288.8 1474.8,2294.6 1484.9,2288.8 1493.5,2284.5 1503.6,2274.4 1512.3,2270.1 1522.4,2273 1531.6,2288.8 1539.6,2278.7 1550,2287.4 1559,2285.9 1569.1,2294.6 1579.2,2307.5 1587.8,2296 1597.9,2281.6 1615.2,2285.9 1625.3,2280.2 1644,2287.4 1652.6,2287.4 1662.7,2283.1 1681.5,2293.1 1691.5,2285.9 1701.6,2291.7 1711.7,2291.7 1721.8,2294.6 1729,2270.1 1738.5,2262.9 1747.7,2307.5 1757.8,2297.5 1766.4,2285.9 1776.5,2290.3 1785.1,2293.1 1793.8,2275.9 1803.9,2288.8 1812.5,2287.4 1831.2,2281.6 1841.3,2280.2 1849.9,2273 1860,2280.2 1868.7,2278.7 1878.7,2277.3 1897.5,2277.3 1907.5,2285.9 1916.2,2274.4 1926.3,2287.4 1934.9,2277.3 1945,2274.4 1963.7,2270.1 1972.4,2270.1 1981,2275.9 2000,2280.2 2011.1,2280.1 2020.2,2277 2030,2286.2 2040.1,2278.6 2049.2,2284.7 2058.4,2278.6 2068.5,2292.3 2078.2,2286.2 2087.4,2286.2 2098.1,2278.6 2107.2,2274 2116.4,2277 2125.5,2278.6 2134.7,2270.9 2143.9,2284.7 2153,2270.9 2162.2,2289.3 2171.3,2261.8 2181.4,2281.6 2191.2,2270.9 2201,2260.3 2209.5,2274 2218.7,2269.4 2227.8,2272.5 2241.6,2272.5 2255.3,2284.7 2266,2272.5 2275.1,2283.1 2284.3,2289.3 2293.5,2269.4 2304.1,2284.7 2313.3,2281.6 2322.5,2284.7 2331.6,2281.6 2340.8,2277 2349.9,2283.1 2359.1,2284.7 2368.9,2290.8 2377.4,2280.1 2386.6,2275.5 2395.7,2281.6 2404.9,2290.8 2415.6,2296.9 2424.7,2289.3 2433.9,2286.2 2443.1,2274 2450.7,2278.6 2458.9,2267.9" fill="none" stroke="#808080" stroke-width="10" stroke-linejoin="round" stroke-linecap="butt" clip-path="url(#c3)"/>
<line x1="168.8" y1="1362.6" x2="168.8" y2="2359.8" stroke="#000" stroke-width="5.3" stroke-linecap="round" />
<line x1="168.8" y1="2318.8" x2="2458.9" y2="2318.8" stroke="#000" stroke-width="5.5" stroke-linecap="butt" />
<line x1="194.2" y1="2318.8" x2="194.2" y2="2339.3" stroke="#000" stroke-width="5.3" stroke-linecap="round" />
<line x1="219.7" y1="2318.8" x2="219.7" y2="2339.3" stroke="#000" stroke-width="5.3" stroke-linecap="round" />
<line x1="245.1" y1="2318.8" x2="245.1" y2="2339.3" stroke="#000" stroke-width="5.3" stroke-linecap="round" />
<line x1="270.6" y1="2318.8" x2="270.6" y2="2339.3" stroke="#000" stroke-width="5.3" stroke-linecap="round" />
<line x1="296" y1="2318.8" x2="296" y2="2339.3" stroke="#000" stroke-width="5.3" stroke-linecap="round" />
<line x1="321.5" y1="2318.8" x2="321.5" y2="2339.3" stroke="#000" stroke-width="5.3" stroke-linecap="round" />
<line x1="346.9" y1="2318.8" x2="346.9" y2="2339.3" stroke="#000" stroke-width="5.3" stroke-linecap="round" />
<line x1="372.4" y1="2318.8" x2="372.4" y2="2339.3" stroke="#000" stroke-width="5.3" stroke-linecap="round" />
<line x1="397.8" y1="2318.8" x2="397.8" y2="2339.3" stroke="#000" stroke-width="5.3" stroke-linecap="round" />
<line x1="423.2" y1="2318.8" x2="423.2" y2="2359.8" stroke="#000" stroke-width="5.3" stroke-linecap="round" />
<line x1="448.7" y1="2318.8" x2="448.7" y2="2339.3" stroke="#000" stroke-width="5.3" stroke-linecap="round" />
<line x1="474.1" y1="2318.8" x2="474.1" y2="2339.3" stroke="#000" stroke-width="5.3" stroke-linecap="round" />
<line x1="499.6" y1="2318.8" x2="499.6" y2="2339.3" stroke="#000" stroke-width="5.3" stroke-linecap="round" />
<line x1="525" y1="2318.8" x2="525" y2="2339.3" stroke="#000" stroke-width="5.3" stroke-linecap="round" />
<line x1="550.5" y1="2318.8" x2="550.5" y2="2339.3" stroke="#000" stroke-width="5.3" stroke-linecap="round" />
<line x1="575.9" y1="2318.8" x2="575.9" y2="2339.3" stroke="#000" stroke-width="5.3" stroke-linecap="round" />
<line x1="601.4" y1="2318.8" x2="601.4" y2="2339.3" stroke="#000" stroke-width="5.3" stroke-linecap="round" />
<line x1="626.8" y1="2318.8" x2="626.8" y2="2339.3" stroke="#000" stroke-width="5.3" stroke-linecap="round" />
<line x1="652.3" y1="2318.8" x2="652.3" y2="2339.3" stroke="#000" stroke-width="5.3" stroke-linecap="round" />
<line x1="677.7" y1="2318.8" x2="677.7" y2="2359.8" stroke="#000" stroke-width="5.3" stroke-linecap="round" />
<line x1="703.1" y1="2318.8" x2="703.1" y2="2339.3" stroke="#000" stroke-width="5.3" stroke-linecap="round" />
<line x1="728.6" y1="2318.8" x2="728.6" y2="2339.3" stroke="#000" stroke-width="5.3" stroke-linecap="round" />
<line x1="754" y1="2318.8" x2="754" y2="2339.3" stroke="#000" stroke-width="5.3" stroke-linecap="round" />
<line x1="779.5" y1="2318.8" x2="779.5" y2="2339.3" stroke="#000" stroke-width="5.3" stroke-linecap="round" />
<line x1="804.9" y1="2318.8" x2="804.9" y2="2339.3" stroke="#000" stroke-width="5.3" stroke-linecap="round" />
<line x1="830.4" y1="2318.8" x2="830.4" y2="2339.3" stroke="#000" stroke-width="5.3" stroke-linecap="round" />
<line x1="855.8" y1="2318.8" x2="855.8" y2="2339.3" stroke="#000" stroke-width="5.3" stroke-linecap="round" />
<line x1="881.3" y1="2318.8" x2="881.3" y2="2339.3" stroke="#000" stroke-width="5.3" stroke-linecap="round" />
<line x1="906.7" y1="2318.8" x2="906.7" y2="2339.3" stroke="#000" stroke-width="5.3" stroke-linecap="round" />
<line x1="932.2" y1="2318.8" x2="932.2" y2="2359.8" stroke="#000" stroke-width="5.3" stroke-linecap="round" />
<line x1="957.6" y1="2318.8" x2="957.6" y2="2339.3" stroke="#000" stroke-width="5.3" stroke-linecap="round" />
<line x1="983" y1="2318.8" x2="983" y2="2339.3" stroke="#000" stroke-width="5.3" stroke-linecap="round" />
<line x1="1008.5" y1="2318.8" x2="1008.5" y2="2339.3" stroke="#000" stroke-width="5.3" stroke-linecap="round" />
<line x1="1033.9" y1="2318.8" x2="1033.9" y2="2339.3" stroke="#000" stroke-width="5.3" stroke-linecap="round" />
<line x1="1059.4" y1="2318.8" x2="1059.4" y2="2339.3" stroke="#000" stroke-width="5.3" stroke-linecap="round" />
<line x1="1084.8" y1="2318.8" x2="1084.8" y2="2339.3" stroke="#000" stroke-width="5.3" stroke-linecap="round" />
<line x1="1110.3" y1="2318.8" x2="1110.3" y2="2339.3" stroke="#000" stroke-width="5.3" stroke-linecap="round" />
<line x1="1135.7" y1="2318.8" x2="1135.7" y2="2339.3" stroke="#000" stroke-width="5.3" stroke-linecap="round" />
<line x1="1161.2" y1="2318.8" x2="1161.2" y2="2339.3" stroke="#000" stroke-width="5.3" stroke-linecap="round" />
<line x1="1186.6" y1="2318.8" x2="1186.6" y2="2359.8" stroke="#000" stroke-width="5.3" stroke-linecap="round" />
<line x1="1212" y1="2318.8" x2="1212" y2="2339.3" stroke="#000" stroke-width="5.3" stroke-linecap="round" />
<line x1="1237.5" y1="2318.8" x2="1237.5" y2="2339.3" stroke="#000" stroke-width="5.3" stroke-linecap="round" />
<line x1="1262.9" y1="2318.8" x2="1262.9" y2="2339.3" stroke="#000" stroke-width="5.3" stroke-linecap="round" />
<line x1="1288.4" y1="2318.8" x2="1288.4" y2="2339.3" stroke="#000" stroke-width="5.3" stroke-linecap="round" />
<line x1="1313.8" y1="2318.8" x2="1313.8" y2="2339.3" stroke="#000" stroke-width="5.3" stroke-linecap="round" />
<line x1="1339.3" y1="2318.8" x2="1339.3" y2="2339.3" stroke="#000" stroke-width="5.3" stroke-linecap="round" />
<line x1="1364.7" y1="2318.8" x2="1364.7" y2="2339.3" stroke="#000" stroke-width="5.3" stroke-linecap="round" />
<line x1="1390.2" y1="2318.8" x2="1390.2" y2="2339.3" stroke="#000" stroke-width="5.3" stroke-linecap="round" />
<line x1="1415.6" y1="2318.8" x2="1415.6" y2="2339.3" stroke="#000" stroke-width="5.3" stroke-linecap="round" />
<line x1="1441" y1="2318.8" x2="1441" y2="2359.8" stroke="#000" stroke-width="5.3" stroke-linecap="round" />
<line x1="1466.5" y1="2318.8" x2="1466.5" y2="2339.3" stroke="#000" stroke-width="5.3" stroke-linecap="round" />
<line x1="1491.9" y1="2318.8" x2="1491.9" y2="2339.3" stroke="#000" stroke-width="5.3" stroke-linecap="round" />
<line x1="1517.4" y1="2318.8" x2="1517.4" y2="2339.3" stroke="#000" stroke-width="5.3" stroke-linecap="round" />
<line x1="1542.8" y1="2318.8" x2="1542.8" y2="2339.3" stroke="#000" stroke-width="5.3" stroke-linecap="round" />
<line x1="1568.3" y1="2318.8" x2="1568.3" y2="2339.3" stroke="#000" stroke-width="5.3" stroke-linecap="round" />
<line x1="1593.7" y1="2318.8" x2="1593.7" y2="2339.3" stroke="#000" stroke-width="5.3" stroke-linecap="round" />
<line x1="1619.2" y1="2318.8" x2="1619.2" y2="2339.3" stroke="#000" stroke-width="5.3" stroke-linecap="round" />
<line x1="1644.6" y1="2318.8" x2="1644.6" y2="2339.3" stroke="#000" stroke-width="5.3" stroke-linecap="round" />
<line x1="1670.1" y1="2318.8" x2="1670.1" y2="2339.3" stroke="#000" stroke-width="5.3" stroke-linecap="round" />
<line x1="1695.5" y1="2318.8" x2="1695.5" y2="2359.8" stroke="#000" stroke-width="5.3" stroke-linecap="round" />
<line x1="1720.9" y1="2318.8" x2="1720.9" y2="2339.3" stroke="#000" stroke-width="5.3" stroke-linecap="round" />
<line x1="1746.4" y1="2318.8" x2="1746.4" y2="2339.3" stroke="#000" stroke-width="5.3" stroke-linecap="round" />
<line x1="1771.8" y1="2318.8" x2="1771.8" y2="2339.3" stroke="#000" stroke-width="5.3" stroke-linecap="round" />
<line x1="1797.3" y1="2318.8" x2="1797.3" y2="2339.3" stroke="#000" stroke-width="5.3" stroke-linecap="round" />
<line x1="1822.7" y1="2318.8" x2="1822.7" y2="2339.3" stroke="#000" stroke-width="5.3" stroke-linecap="round" />
<line x1="1848.2" y1="2318.8" x2="1848.2" y2="2339.3" stroke="#000" stroke-width="5.3" stroke-linecap="round" />
<line x1="1873.6" y1="2318.8" x2="1873.6" y2="2339.3" stroke="#000" stroke-width="5.3" stroke-linecap="round" />
<line x1="1899.1" y1="2318.8" x2="1899.1" y2="2339.3" stroke="#000" stroke-width="5.3" stroke-linecap="round" />
<line x1="1924.5" y1="2318.8" x2="1924.5" y2="2339.3" stroke="#000" stroke-width="5.3" stroke-linecap="round" />
<line x1="1950" y1="2318.8" x2="1950" y2="2359.8" stroke="#000" stroke-width="5.3" stroke-linecap="round" />
<line x1="1975.4" y1="2318.8" x2="1975.4" y2="2339.3" stroke="#000" stroke-width="5.3" stroke-linecap="round" />
<line x1="2000.8" y1="2318.8" x2="2000.8" y2="2339.3" stroke="#000" stroke-width="5.3" stroke-linecap="round" />
<line x1="2026.3" y1="2318.8" x2="2026.3" y2="2339.3" stroke="#000" stroke-width="5.3" stroke-linecap="round" />
<line x1="2051.7" y1="2318.8" x2="2051.7" y2="2339.3" stroke="#000" stroke-width="5.3" stroke-linecap="round" />
<line x1="2077.2" y1="2318.8" x2="2077.2" y2="2339.3" stroke="#000" stroke-width="5.3" stroke-linecap="round" />
<line x1="2102.6" y1="2318.8" x2="2102.6" y2="2339.3" stroke="#000" stroke-width="5.3" stroke-linecap="round" />
<line x1="2128.1" y1="2318.8" x2="2128.1" y2="2339.3" stroke="#000" stroke-width="5.3" stroke-linecap="round" />
<line x1="2153.5" y1="2318.8" x2="2153.5" y2="2339.3" stroke="#000" stroke-width="5.3" stroke-linecap="round" />
<line x1="2179" y1="2318.8" x2="2179" y2="2339.3" stroke="#000" stroke-width="5.3" stroke-linecap="round" />
<line x1="2204.4" y1="2318.8" x2="2204.4" y2="2359.8" stroke="#000" stroke-width="5.3" stroke-linecap="round" />
<line x1="2229.8" y1="2318.8" x2="2229.8" y2="2339.3" stroke="#000" stroke-width="5.3" stroke-linecap="round" />
<line x1="2255.3" y1="2318.8" x2="2255.3" y2="2339.3" stroke="#000" stroke-width="5.3" stroke-linecap="round" />
<line x1="2280.7" y1="2318.8" x2="2280.7" y2="2339.3" stroke="#000" stroke-width="5.3" stroke-linecap="round" />
<line x1="2306.2" y1="2318.8" x2="2306.2" y2="2339.3" stroke="#000" stroke-width="5.3" stroke-linecap="round" />
<line x1="2331.6" y1="2318.8" x2="2331.6" y2="2339.3" stroke="#000" stroke-width="5.3" stroke-linecap="round" />
<line x1="2357.1" y1="2318.8" x2="2357.1" y2="2339.3" stroke="#000" stroke-width="5.3" stroke-linecap="round" />
<line x1="2382.5" y1="2318.8" x2="2382.5" y2="2339.3" stroke="#000" stroke-width="5.3" stroke-linecap="round" />
<line x1="2408" y1="2318.8" x2="2408" y2="2339.3" stroke="#000" stroke-width="5.3" stroke-linecap="round" />
<line x1="2433.4" y1="2318.8" x2="2433.4" y2="2339.3" stroke="#000" stroke-width="5.3" stroke-linecap="round" />
<text x="108.4" y="2411.9" font-family='"Liberation Sans", Arial, sans-serif' font-size="54.4" font-weight="bold" font-style="normal" fill="#000" >2750</text>
<text x="362.9" y="2411.9" font-family='"Liberation Sans", Arial, sans-serif' font-size="54.4" font-weight="bold" font-style="normal" fill="#000" >2740</text>
<text x="617.3" y="2411.9" font-family='"Liberation Sans", Arial, sans-serif' font-size="54.4" font-weight="bold" font-style="normal" fill="#000" >2730</text>
<text x="871.8" y="2411.9" font-family='"Liberation Sans", Arial, sans-serif' font-size="54.4" font-weight="bold" font-style="normal" fill="#000" >2720</text>
<text x="1126.2" y="2411.9" font-family='"Liberation Sans", Arial, sans-serif' font-size="54.4" font-weight="bold" font-style="normal" fill="#000" >2710</text>
<text x="1380.7" y="2411.9" font-family='"Liberation Sans", Arial, sans-serif' font-size="54.4" font-weight="bold" font-style="normal" fill="#000" >2700</text>
<text x="1635.1" y="2411.9" font-family='"Liberation Sans", Arial, sans-serif' font-size="54.4" font-weight="bold" font-style="normal" fill="#000" >2690</text>
<text x="1889.6" y="2411.9" font-family='"Liberation Sans", Arial, sans-serif' font-size="54.4" font-weight="bold" font-style="normal" fill="#000" >2680</text>
<text x="2144" y="2411.9" font-family='"Liberation Sans", Arial, sans-serif' font-size="54.4" font-weight="bold" font-style="normal" fill="#000" >2670</text>
<text x="2282.2" y="2412.5" font-family='"Liberation Serif", "Times New Roman", serif' font-size="56" font-weight="normal" font-style="italic" fill="#000" >ν</text>
<text x="2284" y="2397.3" font-family='"Liberation Serif", "Times New Roman", serif' font-size="57" font-weight="bold" font-style="normal" fill="#000" >~</text>
<text x="2315.3" y="2412.5" font-family='"Liberation Sans", Arial, sans-serif' font-size="54.3" font-weight="bold" font-style="normal" fill="#000" >/ cm</text>
<text x="2421.3" y="2386.8" font-family='"Liberation Serif", "Times New Roman", serif' font-size="39" font-weight="normal" font-style="normal" fill="#000" >−</text>
<text x="2442.5" y="2382.1" font-family='"Liberation Sans", Arial, sans-serif' font-size="37" font-weight="bold" font-style="normal" fill="#000" >1</text>
<line x1="141.3" y1="2318.8" x2="168.8" y2="2318.8" stroke="#000" stroke-width="5.3" stroke-linecap="round" />
<text x="101.1" y="2334.8" font-family='"Liberation Sans", Arial, sans-serif' font-size="54.4" font-weight="bold" font-style="normal" fill="#000" >0</text>
<line x1="141.3" y1="2067.4" x2="168.8" y2="2067.4" stroke="#000" stroke-width="5.3" stroke-linecap="round" />
<text x="100.3" y="2083.4" font-family='"Liberation Sans", Arial, sans-serif' font-size="54.4" font-weight="bold" font-style="normal" fill="#000" >1</text>
<line x1="141.3" y1="1816" x2="168.8" y2="1816" stroke="#000" stroke-width="5.3" stroke-linecap="round" />
<text x="101.1" y="1832.2" font-family='"Liberation Sans", Arial, sans-serif' font-size="54.4" font-weight="bold" font-style="normal" fill="#000" >2</text>
<line x1="141.3" y1="1564.6" x2="168.8" y2="1564.6" stroke="#000" stroke-width="5.3" stroke-linecap="round" />
<text x="100.8" y="1580.6" font-family='"Liberation Sans", Arial, sans-serif' font-size="54.4" font-weight="bold" font-style="normal" fill="#000" >3</text>
<line x1="599.6" y1="938.5" x2="599.6" y2="1484" stroke="#000" stroke-width="5.4" stroke-linecap="round" stroke-dasharray="24.6 27.73"/>
<line x1="599.6" y1="1496.4" x2="599.6" y2="1628" stroke="#000" stroke-width="5.4" stroke-linecap="round" stroke-dasharray="24.6 27.73"/>
<line x1="599.6" y1="1706.3" x2="599.6" y2="2003" stroke="#000" stroke-width="5.4" stroke-linecap="round" stroke-dasharray="24.6 27.73"/>
<line x1="880.2" y1="930.1" x2="880.2" y2="2046" stroke="#000" stroke-width="5.4" stroke-linecap="round" stroke-dasharray="24.6 27.73"/>
<line x1="1260.8" y1="656.7" x2="1260.8" y2="1566" stroke="#000" stroke-width="5.4" stroke-linecap="round" stroke-dasharray="24.6 27.73"/>
<line x1="1328.4" y1="584.8" x2="1328.4" y2="1392" stroke="#000" stroke-width="5.4" stroke-linecap="round" stroke-dasharray="24.6 27.73"/>
<line x1="1432.9" y1="631.3" x2="1432.9" y2="1646" stroke="#000" stroke-width="5.4" stroke-linecap="round" stroke-dasharray="24.6 27.73"/>
<line x1="1500.9" y1="657.6" x2="1500.9" y2="1732" stroke="#000" stroke-width="5.4" stroke-linecap="round" stroke-dasharray="24.6 27.73"/>
<text transform="translate(73.6,2100) rotate(-90)" font-family='"Liberation Sans", Arial, sans-serif' font-size="56.2" font-weight="bold" fill="#000">photon count rate / s<tspan dy="-31" font-size="34"><tspan font-family='&quot;Liberation Serif&quot;, serif' font-weight="normal">−</tspan>1</tspan></text>
<text x="200.3" y="1470" font-family='"Liberation Sans", Arial, sans-serif' font-size="53.9" font-weight="bold" font-style="normal" fill="#000" >Raman jet experiment:</text>
<text x="202.3" y="1535.9" font-family='"Liberation Sans", Arial, sans-serif' font-size="54.2" font-weight="bold" font-style="normal" fill="#ff0000" >OD 0.5</text>
<text x="382" y="1535.9" font-family='"Liberation Sans", Arial, sans-serif' font-size="54.2" font-weight="bold" font-style="normal" fill="#ff0000" >mm </text>
<text x="202.3" y="1604.8" font-family='"Liberation Sans", Arial, sans-serif' font-size="54.2" font-weight="bold" font-style="normal" fill="#0000ff" >OD 2.0</text>
<text x="382" y="1604.8" font-family='"Liberation Sans", Arial, sans-serif' font-size="54.2" font-weight="bold" font-style="normal" fill="#0000ff" >mm </text>
<text x="491.5" y="1612.2" font-family='"Liberation Serif", "Times New Roman", serif' font-size="56.8" font-weight="normal" font-style="normal" fill="#0000ff" >×</text>
<text x="521.4" y="1604.8" font-family='"Liberation Sans", Arial, sans-serif' font-size="54.2" font-weight="bold" font-style="normal" fill="#0000ff" >4.7</text>
<text x="202.3" y="1676.8" font-family='"Liberation Sans", Arial, sans-serif' font-size="54.2" font-weight="bold" font-style="normal" fill="#808080" >OH 0.5</text>
<text x="382" y="1676.8" font-family='"Liberation Sans", Arial, sans-serif' font-size="54.2" font-weight="bold" font-style="normal" fill="#808080" >mm </text>
<text x="491.5" y="1684.2" font-family='"Liberation Serif", "Times New Roman", serif' font-size="56.8" font-weight="normal" font-style="normal" fill="#333333" >×</text>
<text x="521.4" y="1676.8" font-family='"Liberation Sans", Arial, sans-serif' font-size="54.2" font-weight="bold" font-style="normal" fill="#808080" >1.65</text>
<text x="205.2" y="1878" font-family='"Liberation Sans", Arial, sans-serif' font-size="54" font-weight="bold" font-style="normal" fill="#000" >overtone/combination</text>
<line x1="460.9" y1="1888.2" x2="599.2" y2="2002.1" stroke="#000" stroke-width="4.8" stroke-linecap="round" />
<line x1="460.9" y1="1888.2" x2="860.1" y2="2061.5" stroke="#000" stroke-width="4.8" stroke-linecap="round" />
<text x="796.7" y="1690.9" font-family='"Liberation Sans", Arial, sans-serif' font-size="54.2" font-weight="bold" font-style="normal" fill="#000" >HDO</text>
<text x="893.2" y="1634.7" font-family='"Liberation Sans", Arial, sans-serif' font-size="54.2" font-weight="bold" font-style="normal" fill="#000" >MeOD</text>
<line x1="977.9" y1="1648.5" x2="977.9" y2="1675.5" stroke="#000" stroke-width="5" stroke-linecap="round" />
<text x="1092.7" y="2088.7" font-family='"Liberation Sans", Arial, sans-serif' font-size="54.2" font-weight="bold" font-style="normal" fill="#000" >?</text>
<text x="1720" y="2085.8" font-family='"Liberation Sans", Arial, sans-serif' font-size="71" font-weight="bold" font-style="italic" fill="#800000" >t</text>
<text x="1873.7" y="2154.9" font-family='"Liberation Sans", Arial, sans-serif' font-size="54.2" font-weight="bold" font-style="normal" fill="#000" >dimer</text>
<text x="1839.7" y="2208.2" font-family='"Liberation Sans", Arial, sans-serif' font-size="54.2" font-weight="bold" font-style="normal" fill="#000" >acceptor</text>
<text x="2125.9" y="1584.2" font-family='"Liberation Sans", Arial, sans-serif' font-size="54.3" font-weight="bold" font-style="normal" fill="#000" >D</text>
<text x="2164.2" y="1606.2" font-family='"Liberation Sans", Arial, sans-serif' font-size="41" font-weight="bold" font-style="normal" fill="#000" >2</text>
<text x="2186.8" y="1584.2" font-family='"Liberation Sans", Arial, sans-serif' font-size="54.3" font-weight="bold" font-style="normal" fill="#000" >O</text>
<text x="1019.7" y="1495.2" font-family='"Liberation Sans", Arial, sans-serif' font-size="67" font-weight="bold" font-style="italic" fill="#000" >u</text>
<text x="1060.3" y="1522.4" font-family='"Liberation Sans", Arial, sans-serif' font-size="51.5" font-weight="bold" font-style="normal" fill="#000" >1</text>
<text x="1085.4" y="1504.2" font-family='"DejaVu Sans", sans-serif' font-size="80.4" font-weight="200" font-style="normal" fill="#000" >←</text>
<text x="1153.7" y="1495.2" font-family='"Liberation Serif", "Times New Roman", serif' font-size="65" font-weight="bold" font-style="italic" fill="#000" >l</text>
<text x="1171.9" y="1522.4" font-family='"Liberation Sans", Arial, sans-serif' font-size="51.5" font-weight="bold" font-style="normal" fill="#000" >0</text>
<text x="1560.8" y="1451.1" font-family='"Liberation Serif", "Times New Roman", serif' font-size="65" font-weight="bold" font-style="italic" fill="#000" >l</text>
<text x="1579" y="1478.3" font-family='"Liberation Sans", Arial, sans-serif' font-size="51.5" font-weight="bold" font-style="normal" fill="#000" >1</text>
<text x="1604.1" y="1460.1" font-family='"DejaVu Sans", sans-serif' font-size="80.4" font-weight="200" font-style="normal" fill="#000" >←</text>
<text x="1672.4" y="1451.1" font-family='"Liberation Serif", "Times New Roman", serif' font-size="65" font-weight="bold" font-style="italic" fill="#000" >l</text>
<text x="1690.6" y="1478.3" font-family='"Liberation Sans", Arial, sans-serif' font-size="51.5" font-weight="bold" font-style="normal" fill="#000" >0</text>
<text x="1540.6" y="1578.9" font-family='"Liberation Sans", Arial, sans-serif' font-size="67" font-weight="bold" font-style="italic" fill="#000" >u</text>
<text x="1581.2" y="1606.1" font-family='"Liberation Sans", Arial, sans-serif' font-size="51.5" font-weight="bold" font-style="normal" fill="#000" >1</text>
<text x="1606.3" y="1587.9" font-family='"DejaVu Sans", sans-serif' font-size="80.4" font-weight="200" font-style="normal" fill="#000" >←</text>
<text x="1673.2" y="1578.9" font-family='"Liberation Sans", Arial, sans-serif' font-size="67" font-weight="bold" font-style="italic" fill="#000" >u</text>
<text x="1713.8" y="1606.1" font-family='"Liberation Sans", Arial, sans-serif' font-size="51.5" font-weight="bold" font-style="normal" fill="#000" >0</text>
<text x="1564.8" y="1711.5" font-family='"Liberation Serif", "Times New Roman", serif' font-size="65" font-weight="bold" font-style="italic" fill="#000" >l</text>
<text x="1583" y="1738.7" font-family='"Liberation Sans", Arial, sans-serif' font-size="51.5" font-weight="bold" font-style="normal" fill="#000" >1</text>
<text x="1608.1" y="1720.5" font-family='"DejaVu Sans", sans-serif' font-size="80.4" font-weight="200" font-style="normal" fill="#000" >←</text>
<text x="1675" y="1711.5" font-family='"Liberation Sans", Arial, sans-serif' font-size="67" font-weight="bold" font-style="italic" fill="#000" >u</text>
<text x="1715.6" y="1738.7" font-family='"Liberation Sans", Arial, sans-serif' font-size="51.5" font-weight="bold" font-style="normal" fill="#000" >0</text>
<line x1="1204.7" y1="1497.7" x2="1260.3" y2="1565.9" stroke="#000" stroke-width="5" stroke-linecap="round" />
<line x1="1328.6" y1="1403.8" x2="1553.2" y2="1426.2" stroke="#000" stroke-width="5" stroke-linecap="round" />
<line x1="1433.7" y1="1646.6" x2="1536" y2="1558.7" stroke="#000" stroke-width="5" stroke-linecap="round" />
<line x1="1504.3" y1="1734.4" x2="1557.5" y2="1692.7" stroke="#000" stroke-width="5" stroke-linecap="round" />
<rect x="1200.4" y="2447.5" width="15.6" height="472.3" fill="#7f00ff"/>
<rect x="1372.2" y="2471.1" width="15.6" height="448.7" fill="#008000"/>
<rect x="1701.2" y="2893.7" width="15.6" height="26.1" fill="#800000"/>
<line x1="168.8" y1="2428.8" x2="168.8" y2="2960.8" stroke="#000" stroke-width="5.3" stroke-linecap="round" />
<line x1="168.8" y1="2919.8" x2="2458.9" y2="2919.8" stroke="#000" stroke-width="5.5" stroke-linecap="butt" />
<line x1="194.2" y1="2919.8" x2="194.2" y2="2940.3" stroke="#000" stroke-width="5.3" stroke-linecap="round" />
<line x1="219.7" y1="2919.8" x2="219.7" y2="2940.3" stroke="#000" stroke-width="5.3" stroke-linecap="round" />
<line x1="245.1" y1="2919.8" x2="245.1" y2="2940.3" stroke="#000" stroke-width="5.3" stroke-linecap="round" />
<line x1="270.6" y1="2919.8" x2="270.6" y2="2940.3" stroke="#000" stroke-width="5.3" stroke-linecap="round" />
<line x1="296" y1="2919.8" x2="296" y2="2940.3" stroke="#000" stroke-width="5.3" stroke-linecap="round" />
<line x1="321.5" y1="2919.8" x2="321.5" y2="2940.3" stroke="#000" stroke-width="5.3" stroke-linecap="round" />
<line x1="346.9" y1="2919.8" x2="346.9" y2="2940.3" stroke="#000" stroke-width="5.3" stroke-linecap="round" />
<line x1="372.4" y1="2919.8" x2="372.4" y2="2940.3" stroke="#000" stroke-width="5.3" stroke-linecap="round" />
<line x1="397.8" y1="2919.8" x2="397.8" y2="2940.3" stroke="#000" stroke-width="5.3" stroke-linecap="round" />
<line x1="423.2" y1="2919.8" x2="423.2" y2="2960.8" stroke="#000" stroke-width="5.3" stroke-linecap="round" />
<line x1="448.7" y1="2919.8" x2="448.7" y2="2940.3" stroke="#000" stroke-width="5.3" stroke-linecap="round" />
<line x1="474.1" y1="2919.8" x2="474.1" y2="2940.3" stroke="#000" stroke-width="5.3" stroke-linecap="round" />
<line x1="499.6" y1="2919.8" x2="499.6" y2="2940.3" stroke="#000" stroke-width="5.3" stroke-linecap="round" />
<line x1="525" y1="2919.8" x2="525" y2="2940.3" stroke="#000" stroke-width="5.3" stroke-linecap="round" />
<line x1="550.5" y1="2919.8" x2="550.5" y2="2940.3" stroke="#000" stroke-width="5.3" stroke-linecap="round" />
<line x1="575.9" y1="2919.8" x2="575.9" y2="2940.3" stroke="#000" stroke-width="5.3" stroke-linecap="round" />
<line x1="601.4" y1="2919.8" x2="601.4" y2="2940.3" stroke="#000" stroke-width="5.3" stroke-linecap="round" />
<line x1="626.8" y1="2919.8" x2="626.8" y2="2940.3" stroke="#000" stroke-width="5.3" stroke-linecap="round" />
<line x1="652.3" y1="2919.8" x2="652.3" y2="2940.3" stroke="#000" stroke-width="5.3" stroke-linecap="round" />
<line x1="677.7" y1="2919.8" x2="677.7" y2="2960.8" stroke="#000" stroke-width="5.3" stroke-linecap="round" />
<line x1="703.1" y1="2919.8" x2="703.1" y2="2940.3" stroke="#000" stroke-width="5.3" stroke-linecap="round" />
<line x1="728.6" y1="2919.8" x2="728.6" y2="2940.3" stroke="#000" stroke-width="5.3" stroke-linecap="round" />
<line x1="754" y1="2919.8" x2="754" y2="2940.3" stroke="#000" stroke-width="5.3" stroke-linecap="round" />
<line x1="779.5" y1="2919.8" x2="779.5" y2="2940.3" stroke="#000" stroke-width="5.3" stroke-linecap="round" />
<line x1="804.9" y1="2919.8" x2="804.9" y2="2940.3" stroke="#000" stroke-width="5.3" stroke-linecap="round" />
<line x1="830.4" y1="2919.8" x2="830.4" y2="2940.3" stroke="#000" stroke-width="5.3" stroke-linecap="round" />
<line x1="855.8" y1="2919.8" x2="855.8" y2="2940.3" stroke="#000" stroke-width="5.3" stroke-linecap="round" />
<line x1="881.3" y1="2919.8" x2="881.3" y2="2940.3" stroke="#000" stroke-width="5.3" stroke-linecap="round" />
<line x1="906.7" y1="2919.8" x2="906.7" y2="2940.3" stroke="#000" stroke-width="5.3" stroke-linecap="round" />
<line x1="932.2" y1="2919.8" x2="932.2" y2="2960.8" stroke="#000" stroke-width="5.3" stroke-linecap="round" />
<line x1="957.6" y1="2919.8" x2="957.6" y2="2940.3" stroke="#000" stroke-width="5.3" stroke-linecap="round" />
<line x1="983" y1="2919.8" x2="983" y2="2940.3" stroke="#000" stroke-width="5.3" stroke-linecap="round" />
<line x1="1008.5" y1="2919.8" x2="1008.5" y2="2940.3" stroke="#000" stroke-width="5.3" stroke-linecap="round" />
<line x1="1033.9" y1="2919.8" x2="1033.9" y2="2940.3" stroke="#000" stroke-width="5.3" stroke-linecap="round" />
<line x1="1059.4" y1="2919.8" x2="1059.4" y2="2940.3" stroke="#000" stroke-width="5.3" stroke-linecap="round" />
<line x1="1084.8" y1="2919.8" x2="1084.8" y2="2940.3" stroke="#000" stroke-width="5.3" stroke-linecap="round" />
<line x1="1110.3" y1="2919.8" x2="1110.3" y2="2940.3" stroke="#000" stroke-width="5.3" stroke-linecap="round" />
<line x1="1135.7" y1="2919.8" x2="1135.7" y2="2940.3" stroke="#000" stroke-width="5.3" stroke-linecap="round" />
<line x1="1161.2" y1="2919.8" x2="1161.2" y2="2940.3" stroke="#000" stroke-width="5.3" stroke-linecap="round" />
<line x1="1186.6" y1="2919.8" x2="1186.6" y2="2960.8" stroke="#000" stroke-width="5.3" stroke-linecap="round" />
<line x1="1212" y1="2919.8" x2="1212" y2="2940.3" stroke="#000" stroke-width="5.3" stroke-linecap="round" />
<line x1="1237.5" y1="2919.8" x2="1237.5" y2="2940.3" stroke="#000" stroke-width="5.3" stroke-linecap="round" />
<line x1="1262.9" y1="2919.8" x2="1262.9" y2="2940.3" stroke="#000" stroke-width="5.3" stroke-linecap="round" />
<line x1="1288.4" y1="2919.8" x2="1288.4" y2="2940.3" stroke="#000" stroke-width="5.3" stroke-linecap="round" />
<line x1="1313.8" y1="2919.8" x2="1313.8" y2="2940.3" stroke="#000" stroke-width="5.3" stroke-linecap="round" />
<line x1="1339.3" y1="2919.8" x2="1339.3" y2="2940.3" stroke="#000" stroke-width="5.3" stroke-linecap="round" />
<line x1="1364.7" y1="2919.8" x2="1364.7" y2="2940.3" stroke="#000" stroke-width="5.3" stroke-linecap="round" />
<line x1="1390.2" y1="2919.8" x2="1390.2" y2="2940.3" stroke="#000" stroke-width="5.3" stroke-linecap="round" />
<line x1="1415.6" y1="2919.8" x2="1415.6" y2="2940.3" stroke="#000" stroke-width="5.3" stroke-linecap="round" />
<line x1="1441" y1="2919.8" x2="1441" y2="2960.8" stroke="#000" stroke-width="5.3" stroke-linecap="round" />
<line x1="1466.5" y1="2919.8" x2="1466.5" y2="2940.3" stroke="#000" stroke-width="5.3" stroke-linecap="round" />
<line x1="1491.9" y1="2919.8" x2="1491.9" y2="2940.3" stroke="#000" stroke-width="5.3" stroke-linecap="round" />
<line x1="1517.4" y1="2919.8" x2="1517.4" y2="2940.3" stroke="#000" stroke-width="5.3" stroke-linecap="round" />
<line x1="1542.8" y1="2919.8" x2="1542.8" y2="2940.3" stroke="#000" stroke-width="5.3" stroke-linecap="round" />
<line x1="1568.3" y1="2919.8" x2="1568.3" y2="2940.3" stroke="#000" stroke-width="5.3" stroke-linecap="round" />
<line x1="1593.7" y1="2919.8" x2="1593.7" y2="2940.3" stroke="#000" stroke-width="5.3" stroke-linecap="round" />
<line x1="1619.2" y1="2919.8" x2="1619.2" y2="2940.3" stroke="#000" stroke-width="5.3" stroke-linecap="round" />
<line x1="1644.6" y1="2919.8" x2="1644.6" y2="2940.3" stroke="#000" stroke-width="5.3" stroke-linecap="round" />
<line x1="1670.1" y1="2919.8" x2="1670.1" y2="2940.3" stroke="#000" stroke-width="5.3" stroke-linecap="round" />
<line x1="1695.5" y1="2919.8" x2="1695.5" y2="2960.8" stroke="#000" stroke-width="5.3" stroke-linecap="round" />
<line x1="1720.9" y1="2919.8" x2="1720.9" y2="2940.3" stroke="#000" stroke-width="5.3" stroke-linecap="round" />
<line x1="1746.4" y1="2919.8" x2="1746.4" y2="2940.3" stroke="#000" stroke-width="5.3" stroke-linecap="round" />
<line x1="1771.8" y1="2919.8" x2="1771.8" y2="2940.3" stroke="#000" stroke-width="5.3" stroke-linecap="round" />
<line x1="1797.3" y1="2919.8" x2="1797.3" y2="2940.3" stroke="#000" stroke-width="5.3" stroke-linecap="round" />
<line x1="1822.7" y1="2919.8" x2="1822.7" y2="2940.3" stroke="#000" stroke-width="5.3" stroke-linecap="round" />
<line x1="1848.2" y1="2919.8" x2="1848.2" y2="2940.3" stroke="#000" stroke-width="5.3" stroke-linecap="round" />
<line x1="1873.6" y1="2919.8" x2="1873.6" y2="2940.3" stroke="#000" stroke-width="5.3" stroke-linecap="round" />
<line x1="1899.1" y1="2919.8" x2="1899.1" y2="2940.3" stroke="#000" stroke-width="5.3" stroke-linecap="round" />
<line x1="1924.5" y1="2919.8" x2="1924.5" y2="2940.3" stroke="#000" stroke-width="5.3" stroke-linecap="round" />
<line x1="1950" y1="2919.8" x2="1950" y2="2960.8" stroke="#000" stroke-width="5.3" stroke-linecap="round" />
<line x1="1975.4" y1="2919.8" x2="1975.4" y2="2940.3" stroke="#000" stroke-width="5.3" stroke-linecap="round" />
<line x1="2000.8" y1="2919.8" x2="2000.8" y2="2940.3" stroke="#000" stroke-width="5.3" stroke-linecap="round" />
<line x1="2026.3" y1="2919.8" x2="2026.3" y2="2940.3" stroke="#000" stroke-width="5.3" stroke-linecap="round" />
<line x1="2051.7" y1="2919.8" x2="2051.7" y2="2940.3" stroke="#000" stroke-width="5.3" stroke-linecap="round" />
<line x1="2077.2" y1="2919.8" x2="2077.2" y2="2940.3" stroke="#000" stroke-width="5.3" stroke-linecap="round" />
<line x1="2102.6" y1="2919.8" x2="2102.6" y2="2940.3" stroke="#000" stroke-width="5.3" stroke-linecap="round" />
<line x1="2128.1" y1="2919.8" x2="2128.1" y2="2940.3" stroke="#000" stroke-width="5.3" stroke-linecap="round" />
<line x1="2153.5" y1="2919.8" x2="2153.5" y2="2940.3" stroke="#000" stroke-width="5.3" stroke-linecap="round" />
<line x1="2179" y1="2919.8" x2="2179" y2="2940.3" stroke="#000" stroke-width="5.3" stroke-linecap="round" />
<line x1="2204.4" y1="2919.8" x2="2204.4" y2="2960.8" stroke="#000" stroke-width="5.3" stroke-linecap="round" />
<line x1="2229.8" y1="2919.8" x2="2229.8" y2="2940.3" stroke="#000" stroke-width="5.3" stroke-linecap="round" />
<line x1="2255.3" y1="2919.8" x2="2255.3" y2="2940.3" stroke="#000" stroke-width="5.3" stroke-linecap="round" />
<line x1="2280.7" y1="2919.8" x2="2280.7" y2="2940.3" stroke="#000" stroke-width="5.3" stroke-linecap="round" />
<line x1="2306.2" y1="2919.8" x2="2306.2" y2="2940.3" stroke="#000" stroke-width="5.3" stroke-linecap="round" />
<line x1="2331.6" y1="2919.8" x2="2331.6" y2="2940.3" stroke="#000" stroke-width="5.3" stroke-linecap="round" />
<line x1="2357.1" y1="2919.8" x2="2357.1" y2="2940.3" stroke="#000" stroke-width="5.3" stroke-linecap="round" />
<line x1="2382.5" y1="2919.8" x2="2382.5" y2="2940.3" stroke="#000" stroke-width="5.3" stroke-linecap="round" />
<line x1="2408" y1="2919.8" x2="2408" y2="2940.3" stroke="#000" stroke-width="5.3" stroke-linecap="round" />
<line x1="2433.4" y1="2919.8" x2="2433.4" y2="2940.3" stroke="#000" stroke-width="5.3" stroke-linecap="round" />
<text x="108.4" y="3012.9" font-family='"Liberation Sans", Arial, sans-serif' font-size="54.4" font-weight="bold" font-style="normal" fill="#000" >2750</text>
<text x="362.9" y="3012.9" font-family='"Liberation Sans", Arial, sans-serif' font-size="54.4" font-weight="bold" font-style="normal" fill="#000" >2740</text>
<text x="617.3" y="3012.9" font-family='"Liberation Sans", Arial, sans-serif' font-size="54.4" font-weight="bold" font-style="normal" fill="#000" >2730</text>
<text x="871.8" y="3012.9" font-family='"Liberation Sans", Arial, sans-serif' font-size="54.4" font-weight="bold" font-style="normal" fill="#000" >2720</text>
<text x="1126.2" y="3012.9" font-family='"Liberation Sans", Arial, sans-serif' font-size="54.4" font-weight="bold" font-style="normal" fill="#000" >2710</text>
<text x="1380.7" y="3012.9" font-family='"Liberation Sans", Arial, sans-serif' font-size="54.4" font-weight="bold" font-style="normal" fill="#000" >2700</text>
<text x="1635.1" y="3012.9" font-family='"Liberation Sans", Arial, sans-serif' font-size="54.4" font-weight="bold" font-style="normal" fill="#000" >2690</text>
<text x="1889.6" y="3012.9" font-family='"Liberation Sans", Arial, sans-serif' font-size="54.4" font-weight="bold" font-style="normal" fill="#000" >2680</text>
<text x="2144" y="3012.9" font-family='"Liberation Sans", Arial, sans-serif' font-size="54.4" font-weight="bold" font-style="normal" fill="#000" >2670</text>
<text x="2283.5" y="3015.7" font-family='"Liberation Serif", "Times New Roman", serif' font-size="56" font-weight="normal" font-style="italic" fill="#000" >ν</text>
<text x="2285.3" y="3000.5" font-family='"Liberation Serif", "Times New Roman", serif' font-size="57" font-weight="bold" font-style="normal" fill="#000" >~</text>
<text x="2316.6" y="3015.7" font-family='"Liberation Sans", Arial, sans-serif' font-size="54.3" font-weight="bold" font-style="normal" fill="#000" >/ cm</text>
<text x="2422.7" y="2990" font-family='"Liberation Serif", "Times New Roman", serif' font-size="39" font-weight="normal" font-style="normal" fill="#000" >−</text>
<text x="2443.8" y="2985.3" font-family='"Liberation Sans", Arial, sans-serif' font-size="37" font-weight="bold" font-style="normal" fill="#000" >1</text>
<polyline points="168.8,2916.4 170.3,2916.4 171.8,2916.4 173.3,2916.4 174.8,2916.4 176.3,2916.4 177.8,2916.4 179.3,2916.4 180.8,2916.4 182.3,2916.4 183.8,2916.4 185.3,2916.4 186.8,2916.4 188.3,2916.4 189.8,2916.4 191.3,2916.4 192.8,2916.4 194.3,2916.4 195.8,2916.4 197.3,2916.4 198.8,2916.4 200.3,2916.4 201.8,2916.4 203.3,2916.4 204.8,2916.4 206.3,2916.4 207.8,2916.4 209.3,2916.4 210.8,2916.4 212.3,2916.4 213.8,2916.4 215.3,2916.4 216.8,2916.4 218.3,2916.4 219.8,2916.4 221.3,2916.4 222.8,2916.4 224.3,2916.4 225.8,2916.4 227.3,2916.4 228.8,2916.4 230.3,2916.4 231.8,2916.4 233.3,2916.4 234.8,2916.4 236.3,2916.4 237.8,2916.4 239.3,2916.4 240.8,2916.4 242.3,2916.4 243.8,2916.4 245.3,2916.4 246.8,2916.4 248.3,2916.4 249.8,2916.4 251.3,2916.4 252.8,2916.4 254.3,2916.4 255.8,2916.4 257.3,2916.4 258.8,2916.4 260.3,2916.4 261.8,2916.4 263.3,2916.4 264.8,2916.4 266.3,2916.4 267.8,2916.4 269.3,2916.4 270.8,2916.4 272.3,2916.4 273.8,2916.4 275.3,2916.4 276.8,2916.4 278.3,2916.4 279.8,2916.4 281.3,2916.4 282.8,2916.4 284.3,2916.4 285.8,2916.4 287.3,2916.4 288.8,2916.4 290.3,2916.4 291.8,2916.4 293.3,2916.4 294.8,2916.4 296.3,2916.4 297.8,2916.4 299.3,2916.4 300.8,2916.4 302.3,2916.4 303.8,2916.4 305.3,2916.4 306.8,2916.4 308.3,2916.4 309.8,2916.4 311.3,2916.4 312.8,2916.4 314.3,2916.4 315.8,2916.4 317.3,2916.4 318.8,2916.4 320.3,2916.4 321.8,2916.4 323.3,2916.4 324.8,2916.4 326.3,2916.4 327.8,2916.4 329.3,2916.3 330.8,2916.3 332.3,2916.3 333.8,2916.3 335.3,2916.3 336.8,2916.3 338.3,2916.3 339.8,2916.3 341.3,2916.3 342.8,2916.3 344.3,2916.3 345.8,2916.3 347.3,2916.3 348.8,2916.3 350.3,2916.3 351.8,2916.3 353.3,2916.3 354.8,2916.3 356.3,2916.3 357.8,2916.3 359.3,2916.3 360.8,2916.3 362.3,2916.3 363.8,2916.3 365.3,2916.3 366.8,2916.3 368.3,2916.3 369.8,2916.3 371.3,2916.3 372.8,2916.3 374.3,2916.3 375.8,2916.3 377.3,2916.3 378.8,2916.3 380.3,2916.3 381.8,2916.3 383.3,2916.3 384.8,2916.3 386.3,2916.3 387.8,2916.3 389.3,2916.3 390.8,2916.3 392.3,2916.3 393.8,2916.3 395.3,2916.3 396.8,2916.3 398.3,2916.3 399.8,2916.3 401.3,2916.3 402.8,2916.3 404.3,2916.3 405.8,2916.3 407.3,2916.3 408.8,2916.3 410.3,2916.3 411.8,2916.3 413.3,2916.3 414.8,2916.3 416.3,2916.3 417.8,2916.3 419.3,2916.3 420.8,2916.3 422.3,2916.3 423.8,2916.3 425.3,2916.3 426.8,2916.3 428.3,2916.3 429.8,2916.3 431.3,2916.3 432.8,2916.3 434.3,2916.3 435.8,2916.3 437.3,2916.3 438.8,2916.3 440.3,2916.2 441.8,2916.2 443.3,2916.2 444.8,2916.2 446.3,2916.2 447.8,2916.2 449.3,2916.2 450.8,2916.2 452.3,2916.2 453.8,2916.2 455.3,2916.2 456.8,2916.2 458.3,2916.2 459.8,2916.2 461.3,2916.2 462.8,2916.2 464.3,2916.2 465.8,2916.2 467.3,2916.2 468.8,2916.2 470.3,2916.2 471.8,2916.2 473.3,2916.2 474.8,2916.2 476.3,2916.2 477.8,2916.2 479.3,2916.2 480.8,2916.2 482.3,2916.2 483.8,2916.2 485.3,2916.2 486.8,2916.2 488.3,2916.2 489.8,2916.2 491.3,2916.2 492.8,2916.2 494.3,2916.2 495.8,2916.2 497.3,2916.2 498.8,2916.2 500.3,2916.2 501.8,2916.2 503.3,2916.2 504.8,2916.2 506.3,2916.2 507.8,2916.2 509.3,2916.2 510.8,2916.2 512.3,2916.2 513.8,2916.2 515.3,2916.2 516.8,2916.2 518.3,2916.2 519.8,2916.1 521.3,2916.1 522.8,2916.1 524.3,2916.1 525.8,2916.1 527.3,2916.1 528.8,2916.1 530.3,2916.1 531.8,2916.1 533.3,2916.1 534.8,2916.1 536.3,2916.1 537.8,2916.1 539.3,2916.1 540.8,2916.1 542.3,2916.1 543.8,2916.1 545.3,2916.1 546.8,2916.1 548.3,2916.1 549.8,2916.1 551.3,2916.1 552.8,2916.1 554.3,2916.1 555.8,2916.1 557.3,2916.1 558.8,2916.1 560.3,2916.1 561.8,2916.1 563.3,2916.1 564.8,2916.1 566.3,2916.1 567.8,2916.1 569.3,2916.1 570.8,2916.1 572.3,2916.1 573.8,2916.1 575.3,2916.1 576.8,2916.1 578.3,2916.1 579.8,2916 581.3,2916 582.8,2916 584.3,2916 585.8,2916 587.3,2916 588.8,2916 590.3,2916 591.8,2916 593.3,2916 594.8,2916 596.3,2916 597.8,2916 599.3,2916 600.8,2916 602.3,2916 603.8,2916 605.3,2916 606.8,2916 608.3,2916 609.8,2916 611.3,2916 612.8,2916 614.3,2916 615.8,2916 617.3,2916 618.8,2916 620.3,2916 621.8,2916 623.3,2916 624.8,2916 626.3,2915.9 627.8,2915.9 629.3,2915.9 630.8,2915.9 632.3,2915.9 633.8,2915.9 635.3,2915.9 636.8,2915.9 638.3,2915.9 639.8,2915.9 641.3,2915.9 642.8,2915.9 644.3,2915.9 645.8,2915.9 647.3,2915.9 648.8,2915.9 650.3,2915.9 651.8,2915.9 653.3,2915.9 654.8,2915.9 656.3,2915.9 657.8,2915.9 659.3,2915.9 660.8,2915.9 662.3,2915.9 663.8,2915.9 665.3,2915.8 666.8,2915.8 668.3,2915.8 669.8,2915.8 671.3,2915.8 672.8,2915.8 674.3,2915.8 675.8,2915.8 677.3,2915.8 678.8,2915.8 680.3,2915.8 681.8,2915.8 683.3,2915.8 684.8,2915.8 686.3,2915.8 687.8,2915.8 689.3,2915.8 690.8,2915.8 692.3,2915.8 693.8,2915.8 695.3,2915.8 696.8,2915.8 698.3,2915.7 699.8,2915.7 701.3,2915.7 702.8,2915.7 704.3,2915.7 705.8,2915.7 707.3,2915.7 708.8,2915.7 710.3,2915.7 711.8,2915.7 713.3,2915.7 714.8,2915.7 716.3,2915.7 717.8,2915.7 719.3,2915.7 720.8,2915.7 722.3,2915.7 723.8,2915.7 725.3,2915.6 726.8,2915.6 728.3,2915.6 729.8,2915.6 731.3,2915.6 732.8,2915.6 734.3,2915.6 735.8,2915.6 737.3,2915.6 738.8,2915.6 740.3,2915.6 741.8,2915.6 743.3,2915.6 744.8,2915.6 746.3,2915.6 747.8,2915.6 749.3,2915.5 750.8,2915.5 752.3,2915.5 753.8,2915.5 755.3,2915.5 756.8,2915.5 758.3,2915.5 759.8,2915.5 761.3,2915.5 762.8,2915.5 764.3,2915.5 765.8,2915.5 767.3,2915.5 768.8,2915.5 770.3,2915.4 771.8,2915.4 773.3,2915.4 774.8,2915.4 776.3,2915.4 777.8,2915.4 779.3,2915.4 780.8,2915.4 782.3,2915.4 783.8,2915.4 785.3,2915.4 786.8,2915.4 788.3,2915.3 789.8,2915.3 791.3,2915.3 792.8,2915.3 794.3,2915.3 795.8,2915.3 797.3,2915.3 798.8,2915.3 800.3,2915.3 801.8,2915.3 803.3,2915.3 804.8,2915.2 806.3,2915.2 807.8,2915.2 809.3,2915.2 810.8,2915.2 812.3,2915.2 813.8,2915.2 815.3,2915.2 816.8,2915.2 818.3,2915.2 819.8,2915.1 821.3,2915.1 822.8,2915.1 824.3,2915.1 825.8,2915.1 827.3,2915.1 828.8,2915.1 830.3,2915.1 831.8,2915 833.3,2915 834.8,2915 836.3,2915 837.8,2915 839.3,2915 840.8,2915 842.3,2915 843.8,2915 845.3,2914.9 846.8,2914.9 848.3,2914.9 849.8,2914.9 851.3,2914.9 852.8,2914.9 854.3,2914.9 855.8,2914.8 857.3,2914.8 858.8,2914.8 860.3,2914.8 861.8,2914.8 863.3,2914.8 864.8,2914.8 866.3,2914.7 867.8,2914.7 869.3,2914.7 870.8,2914.7 872.3,2914.7 873.8,2914.7 875.3,2914.6 876.8,2914.6 878.3,2914.6 879.8,2914.6 881.3,2914.6 882.8,2914.6 884.3,2914.5 885.8,2914.5 887.3,2914.5 888.8,2914.5 890.3,2914.5 891.8,2914.4 893.3,2914.4 894.8,2914.4 896.3,2914.4 897.8,2914.4 899.3,2914.3 900.8,2914.3 902.3,2914.3 903.8,2914.3 905.3,2914.3 906.8,2914.2 908.3,2914.2 909.8,2914.2 911.3,2914.2 912.8,2914.2 914.3,2914.1 915.8,2914.1 917.3,2914.1 918.8,2914.1 920.3,2914 921.8,2914 923.3,2914 924.8,2914 926.3,2913.9 927.8,2913.9 929.3,2913.9 930.8,2913.9 932.3,2913.8 933.8,2913.8 935.3,2913.8 936.8,2913.7 938.3,2913.7 939.8,2913.7 941.3,2913.6 942.8,2913.6 944.3,2913.6 945.8,2913.6 947.3,2913.5 948.8,2913.5 950.3,2913.5 951.8,2913.4 953.3,2913.4 954.8,2913.4 956.3,2913.3 957.8,2913.3 959.3,2913.2 960.8,2913.2 962.3,2913.2 963.8,2913.1 965.3,2913.1 966.8,2913.1 968.3,2913 969.8,2913 971.3,2912.9 972.8,2912.9 974.3,2912.8 975.8,2912.8 977.3,2912.7 978.8,2912.7 980.3,2912.7 981.8,2912.6 983.3,2912.6 984.8,2912.5 986.3,2912.5 987.8,2912.4 989.3,2912.4 990.8,2912.3 992.3,2912.2 993.8,2912.2 995.3,2912.1 996.8,2912.1 998.3,2912 999.8,2912 1001.3,2911.9 1002.8,2911.8 1004.3,2911.8 1005.8,2911.7 1007.3,2911.6 1008.8,2911.6 1010.3,2911.5 1011.8,2911.4 1013.3,2911.4 1014.8,2911.3 1016.3,2911.2 1017.8,2911.1 1019.3,2911.1 1020.8,2911 1022.3,2910.9 1023.8,2910.8 1025.3,2910.7 1026.8,2910.6 1028.3,2910.5 1029.8,2910.4 1031.3,2910.4 1032.8,2910.3 1034.3,2910.2 1035.8,2910.1 1037.3,2909.9 1038.8,2909.8 1040.3,2909.7 1041.8,2909.6 1043.3,2909.5 1044.8,2909.4 1046.3,2909.3 1047.8,2909.1 1049.3,2909 1050.8,2908.9 1052.3,2908.7 1053.8,2908.6 1055.3,2908.5 1056.8,2908.3 1058.3,2908.2 1059.8,2908 1061.3,2907.9 1062.8,2907.7 1064.3,2907.5 1065.8,2907.3 1067.3,2907.2 1068.8,2907 1070.3,2906.8 1071.8,2906.6 1073.3,2906.4 1074.8,2906.2 1076.3,2906 1077.8,2905.8 1079.3,2905.5 1080.8,2905.3 1082.3,2905 1083.8,2904.8 1085.3,2904.5 1086.8,2904.3 1088.3,2904 1089.8,2903.7 1091.3,2903.4 1092.8,2903.1 1094.3,2902.7 1095.8,2902.4 1097.3,2902.1 1098.8,2901.7 1100.3,2901.3 1101.8,2900.9 1103.3,2900.5 1104.8,2900.1 1106.3,2899.7 1107.8,2899.2 1109.3,2898.7 1110.8,2898.2 1112.3,2897.7 1113.8,2897.2 1115.3,2896.6 1116.8,2896 1118.3,2895.4 1119.8,2894.7 1121.3,2894.1 1122.8,2893.3 1124.3,2892.6 1125.8,2891.8 1127.3,2891 1128.8,2890.1 1130.3,2889.2 1131.8,2888.2 1133.3,2887.2 1134.8,2886.1 1136.3,2885 1137.8,2883.8 1139.3,2882.5 1140.8,2881.1 1142.3,2879.7 1143.8,2878.2 1145.3,2876.5 1146.8,2874.8 1148.3,2873 1149.8,2871 1151.3,2868.9 1152.8,2866.6 1154.3,2864.2 1155.8,2861.6 1157.3,2858.8 1158.8,2855.8 1160.3,2852.6 1161.8,2849.1 1163.3,2845.3 1164.8,2841.2 1166.3,2836.8 1167.8,2831.9 1169.3,2826.7 1170.8,2820.9 1172.3,2814.6 1173.8,2807.8 1175.3,2800.3 1176.8,2792 1178.3,2782.9 1179.8,2773 1181.3,2762 1182.8,2749.9 1184.3,2736.7 1185.8,2722.1 1187.3,2706.1 1188.8,2688.6 1190.3,2669.6 1191.8,2649 1193.3,2627 1194.8,2603.6 1196.3,2579.2 1197.8,2554.3 1199.3,2529.5 1200.8,2505.6 1202.3,2483.9 1203.8,2465.3 1205.3,2451.1 1206.8,2442.2 1208.3,2439.4 1209.8,2442.7 1211.3,2451.9 1212.8,2466.4 1214.3,2485.1 1215.8,2507 1217.3,2530.7 1218.8,2555.4 1220.3,2580.1 1221.8,2604.3 1223.3,2627.3 1224.8,2649.1 1226.3,2669.3 1227.8,2688 1229.3,2705.2 1230.8,2720.8 1232.3,2735.1 1233.8,2748 1235.3,2759.7 1236.8,2770.4 1238.3,2780.1 1239.8,2788.8 1241.3,2796.8 1242.8,2804 1244.3,2810.6 1245.8,2816.6 1247.3,2822.1 1248.8,2827.1 1250.3,2831.6 1251.8,2835.8 1253.3,2839.6 1254.8,2843.1 1256.3,2846.3 1257.8,2849.2 1259.3,2851.9 1260.8,2854.4 1262.3,2856.7 1263.8,2858.8 1265.3,2860.7 1266.8,2862.4 1268.3,2864 1269.8,2865.5 1271.3,2866.9 1272.8,2868.1 1274.3,2869.2 1275.8,2870.3 1277.3,2871.2 1278.8,2872 1280.3,2872.8 1281.8,2873.4 1283.3,2874 1284.8,2874.5 1286.3,2874.9 1287.8,2875.3 1289.3,2875.6 1290.8,2875.8 1292.3,2875.9 1293.8,2876 1295.3,2876 1296.8,2876 1298.3,2875.9 1299.8,2875.7 1301.3,2875.4 1302.8,2875.1 1304.3,2874.7 1305.8,2874.2 1307.3,2873.7 1308.8,2873 1310.3,2872.3 1311.8,2871.5 1313.3,2870.6 1314.8,2869.6 1316.3,2868.5 1317.8,2867.3 1319.3,2866 1320.8,2864.6 1322.3,2863 1323.8,2861.3 1325.3,2859.4 1326.8,2857.3 1328.3,2855.1 1329.8,2852.6 1331.3,2849.9 1332.8,2847 1334.3,2843.8 1335.8,2840.4 1337.3,2836.6 1338.8,2832.4 1340.3,2827.9 1341.8,2822.9 1343.3,2817.4 1344.8,2811.4 1346.3,2804.8 1347.8,2797.6 1349.3,2789.6 1350.8,2780.8 1352.3,2771.1 1353.8,2760.3 1355.3,2748.5 1356.8,2735.5 1358.3,2721.2 1359.8,2705.5 1361.3,2688.4 1362.8,2669.8 1364.3,2649.7 1365.8,2628.3 1367.3,2605.7 1368.8,2582.4 1370.3,2558.9 1371.8,2535.8 1373.3,2514.2 1374.8,2495.1 1376.3,2479.6 1377.8,2468.7 1379.3,2463.2 1380.8,2463.6 1382.3,2469.8 1383.8,2481.3 1385.3,2497.4 1386.8,2516.9 1388.3,2538.9 1389.8,2562.2 1391.3,2586 1392.8,2609.4 1394.3,2632.1 1395.8,2653.6 1397.3,2673.7 1398.8,2692.4 1400.3,2709.6 1401.8,2725.3 1403.3,2739.7 1404.8,2752.8 1406.3,2764.8 1407.8,2775.6 1409.3,2785.4 1410.8,2794.4 1412.3,2802.5 1413.8,2810 1415.3,2816.7 1416.8,2822.9 1418.3,2828.6 1419.8,2833.8 1421.3,2838.5 1422.8,2842.9 1424.3,2846.9 1425.8,2850.6 1427.3,2854.1 1428.8,2857.3 1430.3,2860.2 1431.8,2862.9 1433.3,2865.5 1434.8,2867.8 1436.3,2870 1437.8,2872.1 1439.3,2874 1440.8,2875.8 1442.3,2877.5 1443.8,2879.1 1445.3,2880.6 1446.8,2882 1448.3,2883.3 1449.8,2884.6 1451.3,2885.7 1452.8,2886.8 1454.3,2887.9 1455.8,2888.9 1457.3,2889.8 1458.8,2890.7 1460.3,2891.6 1461.8,2892.4 1463.3,2893.1 1464.8,2893.9 1466.3,2894.6 1467.8,2895.2 1469.3,2895.8 1470.8,2896.5 1472.3,2897 1473.8,2897.6 1475.3,2898.1 1476.8,2898.6 1478.3,2899.1 1479.8,2899.5 1481.3,2900 1482.8,2900.4 1484.3,2900.8 1485.8,2901.2 1487.3,2901.6 1488.8,2902 1490.3,2902.3 1491.8,2902.6 1493.3,2903 1494.8,2903.3 1496.3,2903.6 1497.8,2903.9 1499.3,2904.1 1500.8,2904.4 1502.3,2904.7 1503.8,2904.9 1505.3,2905.2 1506.8,2905.4 1508.3,2905.6 1509.8,2905.8 1511.3,2906.1 1512.8,2906.3 1514.3,2906.5 1515.8,2906.6 1517.3,2906.8 1518.8,2907 1520.3,2907.2 1521.8,2907.4 1523.3,2907.5 1524.8,2907.7 1526.3,2907.8 1527.8,2908 1529.3,2908.1 1530.8,2908.3 1532.3,2908.4 1533.8,2908.5 1535.3,2908.7 1536.8,2908.8 1538.3,2908.9 1539.8,2909 1541.3,2909.2 1542.8,2909.3 1544.3,2909.4 1545.8,2909.5 1547.3,2909.6 1548.8,2909.7 1550.3,2909.8 1551.8,2909.9 1553.3,2910 1554.8,2910.1 1556.3,2910.1 1557.8,2910.2 1559.3,2910.3 1560.8,2910.4 1562.3,2910.5 1563.8,2910.5 1565.3,2910.6 1566.8,2910.7 1568.3,2910.8 1569.8,2910.8 1571.3,2910.9 1572.8,2911 1574.3,2911 1575.8,2911.1 1577.3,2911.1 1578.8,2911.2 1580.3,2911.2 1581.8,2911.3 1583.3,2911.3 1584.8,2911.4 1586.3,2911.4 1587.8,2911.5 1589.3,2911.5 1590.8,2911.6 1592.3,2911.6 1593.8,2911.7 1595.3,2911.7 1596.8,2911.7 1598.3,2911.8 1599.8,2911.8 1601.3,2911.8 1602.8,2911.9 1604.3,2911.9 1605.8,2911.9 1607.3,2911.9 1608.8,2912 1610.3,2912 1611.8,2912 1613.3,2912 1614.8,2912 1616.3,2912 1617.8,2912 1619.3,2912 1620.8,2912.1 1622.3,2912.1 1623.8,2912.1 1625.3,2912.1 1626.8,2912 1628.3,2912 1629.8,2912 1631.3,2912 1632.8,2912 1634.3,2912 1635.8,2912 1637.3,2911.9 1638.8,2911.9 1640.3,2911.9 1641.8,2911.8 1643.3,2911.8 1644.8,2911.7 1646.3,2911.7 1647.8,2911.6 1649.3,2911.5 1650.8,2911.4 1652.3,2911.4 1653.8,2911.3 1655.3,2911.1 1656.8,2911 1658.3,2910.9 1659.8,2910.8 1661.3,2910.6 1662.8,2910.4 1664.3,2910.3 1665.8,2910.1 1667.3,2909.8 1668.8,2909.6 1670.3,2909.3 1671.8,2909 1673.3,2908.7 1674.8,2908.4 1676.3,2908 1677.8,2907.5 1679.3,2907 1680.8,2906.5 1682.3,2905.9 1683.8,2905.3 1685.3,2904.6 1686.8,2903.8 1688.3,2902.9 1689.8,2901.9 1691.3,2900.9 1692.8,2899.8 1694.3,2898.6 1695.8,2897.3 1697.3,2896 1698.8,2894.6 1700.3,2893.3 1701.8,2892 1703.3,2890.9 1704.8,2889.9 1706.3,2889.2 1707.8,2888.8 1709.3,2888.7 1710.8,2889 1712.3,2889.5 1713.8,2890.4 1715.3,2891.5 1716.8,2892.7 1718.3,2894.1 1719.8,2895.4 1721.3,2896.8 1722.8,2898.2 1724.3,2899.4 1725.8,2900.6 1727.3,2901.8 1728.8,2902.8 1730.3,2903.7 1731.8,2904.6 1733.3,2905.4 1734.8,2906.1 1736.3,2906.8 1737.8,2907.4 1739.3,2907.9 1740.8,2908.4 1742.3,2908.9 1743.8,2909.3 1745.3,2909.7 1746.8,2910 1748.3,2910.3 1749.8,2910.6 1751.3,2910.9 1752.8,2911.2 1754.3,2911.4 1755.8,2911.6 1757.3,2911.8 1758.8,2912 1760.3,2912.1 1761.8,2912.3 1763.3,2912.5 1764.8,2912.6 1766.3,2912.7 1767.8,2912.8 1769.3,2913 1770.8,2913.1 1772.3,2913.2 1773.8,2913.3 1775.3,2913.4 1776.8,2913.4 1778.3,2913.5 1779.8,2913.6 1781.3,2913.7 1782.8,2913.7 1784.3,2913.8 1785.8,2913.9 1787.3,2913.9 1788.8,2914 1790.3,2914 1791.8,2914.1 1793.3,2914.2 1794.8,2914.2 1796.3,2914.2 1797.8,2914.3 1799.3,2914.3 1800.8,2914.4 1802.3,2914.4 1803.8,2914.5 1805.3,2914.5 1806.8,2914.5 1808.3,2914.6 1809.8,2914.6 1811.3,2914.6 1812.8,2914.7 1814.3,2914.7 1815.8,2914.7 1817.3,2914.7 1818.8,2914.8 1820.3,2914.8 1821.8,2914.8 1823.3,2914.8 1824.8,2914.9 1826.3,2914.9 1827.8,2914.9 1829.3,2914.9 1830.8,2915 1832.3,2915 1833.8,2915 1835.3,2915 1836.8,2915 1838.3,2915.1 1839.8,2915.1 1841.3,2915.1 1842.8,2915.1 1844.3,2915.1 1845.8,2915.1 1847.3,2915.2 1848.8,2915.2 1850.3,2915.2 1851.8,2915.2 1853.3,2915.2 1854.8,2915.2 1856.3,2915.2 1857.8,2915.3 1859.3,2915.3 1860.8,2915.3 1862.3,2915.3 1863.8,2915.3 1865.3,2915.3 1866.8,2915.3 1868.3,2915.3 1869.8,2915.4 1871.3,2915.4 1872.8,2915.4 1874.3,2915.4 1875.8,2915.4 1877.3,2915.4 1878.8,2915.4 1880.3,2915.4 1881.8,2915.4 1883.3,2915.5 1884.8,2915.5 1886.3,2915.5 1887.8,2915.5 1889.3,2915.5 1890.8,2915.5 1892.3,2915.5 1893.8,2915.5 1895.3,2915.5 1896.8,2915.5 1898.3,2915.6 1899.8,2915.6 1901.3,2915.6 1902.8,2915.6 1904.3,2915.6 1905.8,2915.6 1907.3,2915.6 1908.8,2915.6 1910.3,2915.6 1911.8,2915.6 1913.3,2915.6 1914.8,2915.6 1916.3,2915.6 1917.8,2915.7 1919.3,2915.7 1920.8,2915.7 1922.3,2915.7 1923.8,2915.7 1925.3,2915.7 1926.8,2915.7 1928.3,2915.7 1929.8,2915.7 1931.3,2915.7 1932.8,2915.7 1934.3,2915.7 1935.8,2915.7 1937.3,2915.7 1938.8,2915.7 1940.3,2915.8 1941.8,2915.8 1943.3,2915.8 1944.8,2915.8 1946.3,2915.8 1947.8,2915.8 1949.3,2915.8 1950.8,2915.8 1952.3,2915.8 1953.8,2915.8 1955.3,2915.8 1956.8,2915.8 1958.3,2915.8 1959.8,2915.8 1961.3,2915.8 1962.8,2915.8 1964.3,2915.8 1965.8,2915.8 1967.3,2915.8 1968.8,2915.9 1970.3,2915.9 1971.8,2915.9 1973.3,2915.9 1974.8,2915.9 1976.3,2915.9 1977.8,2915.9 1979.3,2915.9 1980.8,2915.9 1982.3,2915.9 1983.8,2915.9 1985.3,2915.9 1986.8,2915.9 1988.3,2915.9 1989.8,2915.9 1991.3,2915.9 1992.8,2915.9 1994.3,2915.9 1995.8,2915.9 1997.3,2915.9 1998.8,2915.9 2000.3,2915.9 2001.8,2915.9 2003.3,2916 2004.8,2916 2006.3,2916 2007.8,2916 2009.3,2916 2010.8,2916 2012.3,2916 2013.8,2916 2015.3,2916 2016.8,2916 2018.3,2916 2019.8,2916 2021.3,2916 2022.8,2916 2024.3,2916 2025.8,2916 2027.3,2916 2028.8,2916 2030.3,2916 2031.8,2916 2033.3,2916 2034.8,2916 2036.3,2916 2037.8,2916 2039.3,2916 2040.8,2916 2042.3,2916 2043.8,2916 2045.3,2916 2046.8,2916.1 2048.3,2916.1 2049.8,2916.1 2051.3,2916.1 2052.8,2916.1 2054.3,2916.1 2055.8,2916.1 2057.3,2916.1 2058.8,2916.1 2060.3,2916.1 2061.8,2916.1 2063.3,2916.1 2064.8,2916.1 2066.3,2916.1 2067.8,2916.1 2069.3,2916.1 2070.8,2916.1 2072.3,2916.1 2073.8,2916.1 2075.3,2916.1 2076.8,2916.1 2078.3,2916.1 2079.8,2916.1 2081.3,2916.1 2082.8,2916.1 2084.3,2916.1 2085.8,2916.1 2087.3,2916.1 2088.8,2916.1 2090.3,2916.1 2091.8,2916.1 2093.3,2916.1 2094.8,2916.1 2096.3,2916.1 2097.8,2916.1 2099.3,2916.1 2100.8,2916.1 2102.3,2916.1 2103.8,2916.2 2105.3,2916.2 2106.8,2916.2 2108.3,2916.2 2109.8,2916.2 2111.3,2916.2 2112.8,2916.2 2114.3,2916.2 2115.8,2916.2 2117.3,2916.2 2118.8,2916.2 2120.3,2916.2 2121.8,2916.2 2123.3,2916.2 2124.8,2916.2 2126.3,2916.2 2127.8,2916.2 2129.3,2916.2 2130.8,2916.2 2132.3,2916.2 2133.8,2916.2 2135.3,2916.2 2136.8,2916.2 2138.3,2916.2 2139.8,2916.2 2141.3,2916.2 2142.8,2916.2 2144.3,2916.2 2145.8,2916.2 2147.3,2916.2 2148.8,2916.2 2150.3,2916.2 2151.8,2916.2 2153.3,2916.2 2154.8,2916.2 2156.3,2916.2 2157.8,2916.2 2159.3,2916.2 2160.8,2916.2 2162.3,2916.2 2163.8,2916.2 2165.3,2916.2 2166.8,2916.2 2168.3,2916.2 2169.8,2916.2 2171.3,2916.2 2172.8,2916.2 2174.3,2916.2 2175.8,2916.2 2177.3,2916.2 2178.8,2916.3 2180.3,2916.3 2181.8,2916.3 2183.3,2916.3 2184.8,2916.3 2186.3,2916.3 2187.8,2916.3 2189.3,2916.3 2190.8,2916.3 2192.3,2916.3 2193.8,2916.3 2195.3,2916.3 2196.8,2916.3 2198.3,2916.3 2199.8,2916.3 2201.3,2916.3 2202.8,2916.3 2204.3,2916.3 2205.8,2916.3 2207.3,2916.3 2208.8,2916.3 2210.3,2916.3 2211.8,2916.3 2213.3,2916.3 2214.8,2916.3 2216.3,2916.3 2217.8,2916.3 2219.3,2916.3 2220.8,2916.3 2222.3,2916.3 2223.8,2916.3 2225.3,2916.3 2226.8,2916.3 2228.3,2916.3 2229.8,2916.3 2231.3,2916.3 2232.8,2916.3 2234.3,2916.3 2235.8,2916.3 2237.3,2916.3 2238.8,2916.3 2240.3,2916.3 2241.8,2916.3 2243.3,2916.3 2244.8,2916.3 2246.3,2916.3 2247.8,2916.3 2249.3,2916.3 2250.8,2916.3 2252.3,2916.3 2253.8,2916.3 2255.3,2916.3 2256.8,2916.3 2258.3,2916.3 2259.8,2916.3 2261.3,2916.3 2262.8,2916.3 2264.3,2916.3 2265.8,2916.3 2267.3,2916.3 2268.8,2916.3 2270.3,2916.3 2271.8,2916.3 2273.3,2916.3 2274.8,2916.3 2276.3,2916.3 2277.8,2916.3 2279.3,2916.3 2280.8,2916.3 2282.3,2916.3 2283.8,2916.3 2285.3,2916.3 2286.8,2916.3 2288.3,2916.4 2289.8,2916.4 2291.3,2916.4 2292.8,2916.4 2294.3,2916.4 2295.8,2916.4 2297.3,2916.4 2298.8,2916.4 2300.3,2916.4 2301.8,2916.4 2303.3,2916.4 2304.8,2916.4 2306.3,2916.4 2307.8,2916.4 2309.3,2916.4 2310.8,2916.4 2312.3,2916.4 2313.8,2916.4 2315.3,2916.4 2316.8,2916.4 2318.3,2916.4 2319.8,2916.4 2321.3,2916.4 2322.8,2916.4 2324.3,2916.4 2325.8,2916.4 2327.3,2916.4 2328.8,2916.4 2330.3,2916.4 2331.8,2916.4 2333.3,2916.4 2334.8,2916.4 2336.3,2916.4 2337.8,2916.4 2339.3,2916.4 2340.8,2916.4 2342.3,2916.4 2343.8,2916.4 2345.3,2916.4 2346.8,2916.4 2348.3,2916.4 2349.8,2916.4 2351.3,2916.4 2352.8,2916.4 2354.3,2916.4 2355.8,2916.4 2357.3,2916.4 2358.8,2916.4 2360.3,2916.4 2361.8,2916.4 2363.3,2916.4 2364.8,2916.4 2366.3,2916.4 2367.8,2916.4 2369.3,2916.4 2370.8,2916.4 2372.3,2916.4 2373.8,2916.4 2375.3,2916.4 2376.8,2916.4 2378.3,2916.4 2379.8,2916.4 2381.3,2916.4 2382.8,2916.4 2384.3,2916.4 2385.8,2916.4 2387.3,2916.4 2388.8,2916.4 2390.3,2916.4 2391.8,2916.4 2393.3,2916.4 2394.8,2916.4 2396.3,2916.4 2397.8,2916.4 2399.3,2916.4 2400.8,2916.4 2402.3,2916.4 2403.8,2916.4 2405.3,2916.4 2406.8,2916.4 2408.3,2916.4 2409.8,2916.4 2411.3,2916.4 2412.8,2916.4 2414.3,2916.4 2415.8,2916.4 2417.3,2916.4 2418.8,2916.4 2420.3,2916.4 2421.8,2916.4 2423.3,2916.4 2424.8,2916.4 2426.3,2916.4 2427.8,2916.4 2429.3,2916.4 2430.8,2916.4 2432.3,2916.4 2433.8,2916.4 2435.3,2916.4 2436.8,2916.4 2438.3,2916.4 2439.8,2916.4 2441.3,2916.4 2442.8,2916.4 2444.3,2916.4 2445.8,2916.4 2447.3,2916.4 2448.8,2916.4 2450.3,2916.4 2451.8,2916.4 2453.3,2916.4 2454.8,2916.4 2456.3,2916.4 2457.8,2916.4" fill="none" stroke="#000" stroke-width="11" stroke-linejoin="round" stroke-linecap="butt" />
<text x="1118.4" y="2470" font-family='"Liberation Sans", Arial, sans-serif' font-size="65.5" font-weight="bold" font-style="italic" fill="#7f00ff" >g</text>
<text x="1154.4" y="2476.5" font-family='"Liberation Serif", "Times New Roman", serif' font-size="68" font-weight="normal" font-style="normal" fill="#7f00ff" >−</text>
<text x="1292.6" y="2482.8" font-family='"Liberation Sans", Arial, sans-serif' font-size="65.5" font-weight="bold" font-style="italic" fill="#008000" >g</text>
<text x="1327.6" y="2490.3" font-family='"Liberation Serif", "Times New Roman", serif' font-size="69" font-weight="normal" font-style="normal" fill="#008000" stroke="#008000" stroke-width="0.9">+</text>
<text x="1697.7" y="2872.7" font-family='"Liberation Sans", Arial, sans-serif' font-size="71" font-weight="bold" font-style="italic" fill="#800000" >t</text>
<text x="194.7" y="2593.9" font-family='"Liberation Sans", Arial, sans-serif' font-size="54" font-weight="bold" font-style="normal" fill="#000" >Raman jet simulation:</text>
<text x="195.6" y="2682.3" font-family='"Liberation Sans", Arial, sans-serif' font-size="54.5" font-weight="bold" font-style="normal" fill="#000" >DLPNO-CCSD(T)/aug-cc-pVQZ</text>
<text x="196.7" y="2752.1" font-family='"Liberation Sans", Arial, sans-serif' font-size="54.4" font-weight="bold" font-style="normal" fill="#000" >//PBE0-D3(BJ)/may-cc-pVTZ</text>
<text x="203.3" y="2839" font-family='"Liberation Serif", "Times New Roman", serif' font-size="54.5" font-weight="bold" font-style="italic" fill="#000" >ν</text>
<text x="204.7" y="2822.7" font-family='"Liberation Serif", "Times New Roman", serif' font-size="47" font-weight="bold" font-style="normal" fill="#000" >~</text>
<text x="253.1" y="2839" font-family='"Liberation Sans", Arial, sans-serif' font-size="54.2" font-weight="bold" font-style="normal" fill="#000" >=</text>
<text x="303.6" y="2839" font-family='"Liberation Serif", "Times New Roman", serif' font-size="50" font-weight="bold" font-style="italic" fill="#000" >ω</text>
<text x="361.4" y="2845.2" font-family='"Liberation Serif", "Times New Roman", serif' font-size="58" font-weight="normal" font-style="normal" fill="#000" >−</text>
<text x="408.2" y="2839" font-family='"Liberation Sans", Arial, sans-serif' font-size="54.2" font-weight="bold" font-style="normal" fill="#000" >124.5 cm</text>
<text x="636.1" y="2812.2" font-family='"Liberation Serif", "Times New Roman", serif' font-size="35" font-weight="normal" font-style="normal" fill="#000" >−</text>
<text x="655.1" y="2809" font-family='"Liberation Sans", Arial, sans-serif' font-size="34.5" font-weight="bold" font-style="normal" fill="#000" >1</text>
<text transform="translate(137.8,2897.2) rotate(-90)" font-family='"Liberation Sans", Arial, sans-serif' font-size="56.2" font-weight="bold" fill="#000">relative intensity</text>
</svg>
</body></html>
